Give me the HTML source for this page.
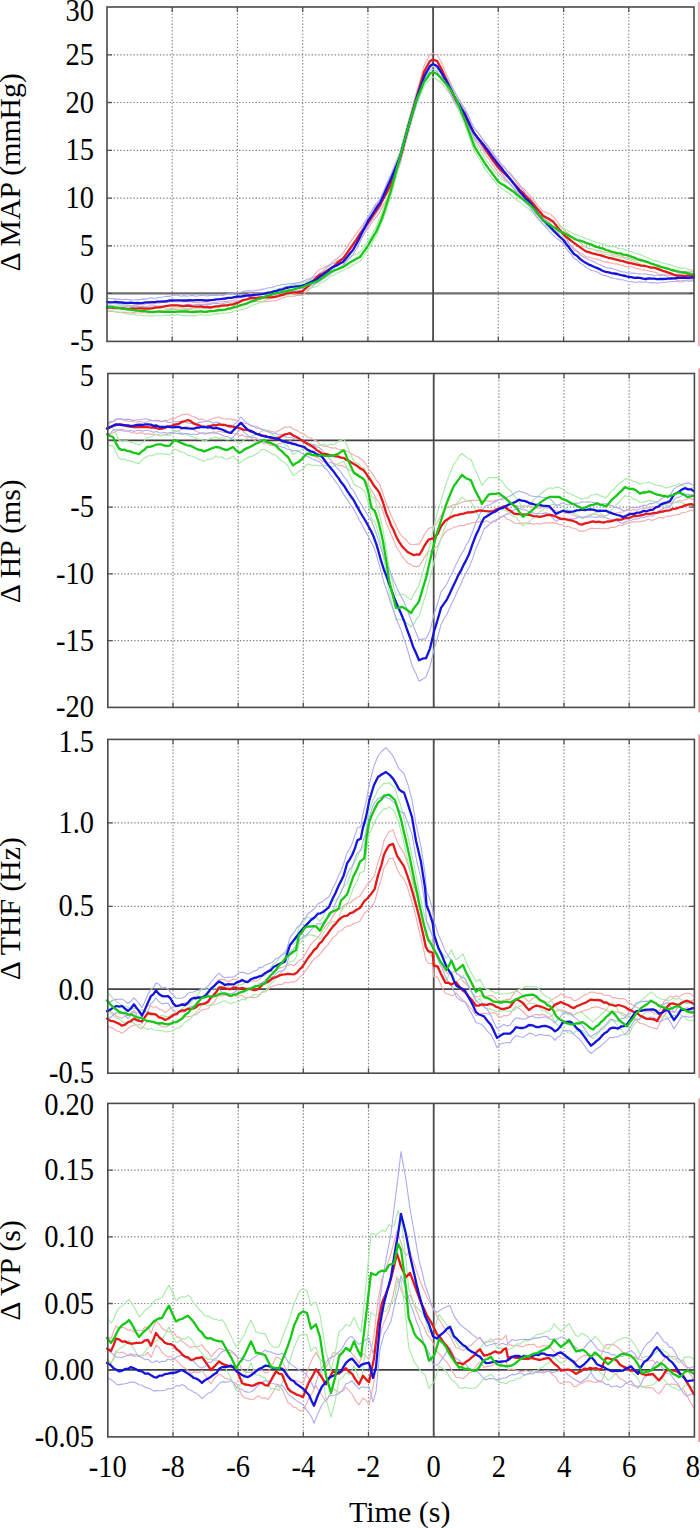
<!DOCTYPE html><html><head><meta charset="utf-8"><style>html,body{margin:0;padding:0;background:#fff;width:700px;height:1528px;overflow:hidden}svg{display:block}text{font-family:"Liberation Serif",serif;fill:#000}</style></head><body>
<svg width="700" height="1528" viewBox="0 0 700 1528">
<rect width="700" height="1528" fill="#fff"/>
<rect x="698" y="2.0" width="2" height="344.4" fill="#f5b0b0"/>
<path d="M172.2,7.0V341.4 M237.4,7.0V341.4 M302.7,7.0V341.4 M367.9,7.0V341.4 M498.3,7.0V341.4 M563.6,7.0V341.4 M628.8,7.0V341.4 M107.0,54.8H694.0 M107.0,102.5H694.0 M107.0,150.3H694.0 M107.0,198.1H694.0 M107.0,245.9H694.0" stroke="#848484" stroke-width="1.15" stroke-dasharray="1.4 1.9" fill="none"/>
<path d="M107.0,293.3H694.0" stroke="#6e6e6e" stroke-width="2.3" fill="none"/>
<path d="M433.1,7.0V341.4" stroke="#4a4a4a" stroke-width="1.8" fill="none"/>
<path d="M107.0,302.7 L109.9,302.5 L112.8,303.0 L115.6,303.9 L118.5,303.4 L121.4,304.0 L124.2,304.4 L127.1,304.7 L130.0,305.3 L132.9,305.6 L135.7,305.1 L138.6,304.4 L141.4,304.6 L144.3,304.5 L147.1,303.6 L150.0,303.9 L153.1,303.9 L156.3,303.1 L159.4,303.3 L162.6,301.9 L165.7,302.1 L168.9,302.2 L172.0,301.5 L175.0,302.0 L178.0,301.7 L181.0,301.7 L184.0,301.4 L187.0,301.6 L190.0,301.8 L192.9,302.5 L195.7,302.4 L198.6,302.7 L201.4,302.7 L204.3,302.8 L207.1,303.1 L210.0,303.4 L212.9,302.7 L215.8,302.9 L218.6,301.8 L221.5,301.5 L224.4,301.6 L227.2,301.4 L230.1,300.8 L233.0,300.5 L235.8,299.4 L238.7,297.9 L241.5,297.1 L244.3,296.3 L247.2,294.5 L250.0,293.5 L253.3,293.8 L256.7,293.7 L260.0,293.2 L262.8,293.0 L265.6,292.9 L268.4,293.5 L271.2,293.3 L274.0,293.1 L276.9,292.1 L279.8,292.0 L282.8,291.1 L285.7,289.9 L288.6,289.8 L291.4,289.6 L294.1,289.2 L296.9,288.7 L299.6,287.7 L302.4,287.8 L305.3,284.5 L308.2,280.8 L311.2,278.2 L314.1,275.2 L317.0,271.6 L319.9,269.4 L322.8,268.4 L325.6,266.5 L328.5,265.3 L331.4,263.2 L334.3,260.3 L337.2,258.5 L340.1,256.1 L343.0,253.1 L346.3,248.4 L349.7,242.7 L353.0,238.2 L356.5,233.1 L360.0,228.7 L362.7,225.2 L365.3,221.0 L368.0,216.8 L371.0,211.9 L374.0,207.7 L377.0,203.6 L380.0,199.2 L383.3,193.0 L386.7,186.2 L390.0,179.7 L393.3,170.6 L396.7,161.3 L400.0,152.4 L402.7,142.2 L405.3,132.5 L408.0,122.1 L410.9,112.0 L413.8,101.5 L416.7,91.3 L420.4,79.1 L424.0,65.9 L427.0,59.8 L430.0,54.4 L433.0,53.3 L437.0,55.0 L441.0,61.3 L443.7,67.9 L446.3,73.7 L449.0,79.6 L451.7,85.5 L454.3,90.8 L457.0,96.1 L459.7,101.2 L462.3,106.2 L465.0,111.0 L468.0,116.1 L471.0,122.4 L474.0,127.7 L477.0,131.6 L480.0,135.4 L483.0,140.1 L486.0,144.1 L489.0,148.7 L492.0,152.8 L495.0,157.4 L498.0,161.4 L501.2,164.5 L504.5,168.1 L507.8,171.2 L511.0,174.1 L514.0,177.6 L517.0,181.5 L520.0,184.8 L522.8,188.3 L525.5,190.5 L528.2,193.5 L531.0,196.9 L534.0,200.0 L537.0,204.6 L540.0,208.0 L543.0,211.2 L546.3,212.4 L549.7,214.1 L553.0,216.3 L556.5,220.5 L559.9,225.1 L563.4,229.7 L566.0,231.8 L568.7,233.8 L571.4,236.5 L574.0,238.1 L577.0,239.9 L580.0,242.4 L583.0,245.2 L586.0,247.3 L588.9,248.4 L591.7,249.0 L594.6,249.7 L597.4,250.7 L600.3,250.8 L603.1,251.7 L606.0,252.3 L608.8,252.8 L611.6,253.9 L614.5,254.9 L617.3,254.9 L620.1,255.7 L623.0,256.7 L625.8,257.6 L628.6,257.9 L631.8,259.3 L634.9,260.0 L638.1,260.1 L641.2,261.4 L644.4,261.6 L647.5,262.1 L650.7,263.3 L653.8,264.2 L657.0,264.6 L659.9,265.8 L662.7,267.3 L665.6,268.3 L668.4,268.4 L671.3,270.3 L674.1,271.1 L677.0,272.0 L679.8,272.4 L682.7,272.2 L685.5,271.2 L688.3,271.2 L691.2,271.3 L694.0,271.4" stroke="#f4aaaa" stroke-width="1.1" fill="none" stroke-linejoin="round"/>
<path d="M107.0,311.0 L109.9,311.7 L112.8,311.3 L115.6,312.0 L118.5,312.4 L121.4,312.4 L124.2,312.1 L127.1,312.5 L130.0,313.0 L132.9,312.6 L135.7,312.9 L138.6,313.0 L141.4,313.0 L144.3,312.2 L147.1,313.2 L150.0,312.7 L153.1,312.7 L156.3,312.3 L159.4,311.5 L162.6,310.9 L165.7,309.9 L168.9,309.7 L172.0,309.3 L175.0,309.6 L178.0,309.9 L181.0,309.8 L184.0,309.8 L187.0,309.4 L190.0,309.6 L192.9,310.1 L195.7,310.2 L198.6,311.1 L201.4,310.4 L204.3,311.4 L207.1,311.6 L210.0,312.0 L212.9,311.0 L215.8,311.4 L218.6,310.9 L221.5,310.2 L224.4,309.6 L227.2,309.6 L230.1,309.4 L233.0,308.7 L235.8,308.1 L238.7,306.7 L241.5,305.9 L244.3,304.0 L247.2,302.8 L250.0,302.0 L253.3,301.7 L256.7,301.3 L260.0,301.5 L262.8,302.0 L265.6,301.4 L268.4,301.5 L271.2,301.0 L274.0,301.0 L276.9,300.3 L279.8,299.0 L282.8,297.9 L285.7,297.0 L288.6,296.2 L291.4,296.2 L294.1,296.1 L296.9,295.5 L299.6,295.2 L302.4,295.7 L305.3,292.9 L308.2,290.0 L311.2,287.8 L314.1,284.8 L317.0,282.0 L319.9,280.1 L322.8,278.8 L325.6,276.6 L328.5,275.2 L331.4,273.4 L334.3,271.4 L337.2,269.7 L340.1,267.6 L343.0,265.2 L346.3,260.7 L349.7,255.3 L353.0,250.0 L356.5,244.5 L360.0,239.9 L362.7,236.7 L365.3,231.7 L368.0,228.5 L371.0,223.7 L374.0,219.6 L377.0,216.4 L380.0,211.8 L383.3,204.8 L386.7,199.4 L390.0,192.3 L393.3,182.6 L396.7,174.2 L400.0,164.6 L402.7,154.2 L405.3,144.4 L408.0,134.6 L410.9,124.0 L413.8,112.5 L416.7,102.3 L420.4,90.4 L424.0,78.2 L427.0,72.9 L430.0,67.7 L433.0,65.2 L437.0,67.4 L441.0,73.4 L443.7,80.4 L446.3,85.8 L449.0,92.5 L451.7,97.1 L454.3,102.2 L457.0,107.3 L459.7,112.1 L462.3,116.6 L465.0,121.5 L468.0,127.0 L471.0,132.5 L474.0,138.8 L477.0,143.0 L480.0,147.5 L483.0,150.9 L486.0,155.4 L489.0,159.2 L492.0,163.6 L495.0,168.3 L498.0,172.3 L501.2,175.8 L504.5,179.2 L507.8,181.8 L511.0,185.5 L514.0,188.2 L517.0,191.2 L520.0,194.7 L522.8,197.5 L525.5,200.8 L528.2,203.7 L531.0,206.9 L534.0,211.0 L537.0,214.7 L540.0,217.9 L543.0,221.6 L546.3,223.0 L549.7,225.1 L553.0,226.1 L556.5,230.9 L559.9,234.8 L563.4,238.9 L566.0,240.7 L568.7,243.6 L571.4,245.7 L574.0,248.3 L577.0,250.7 L580.0,252.9 L583.0,254.2 L586.0,256.8 L588.9,257.1 L591.7,258.0 L594.6,258.8 L597.4,259.4 L600.3,260.3 L603.1,261.6 L606.0,261.9 L608.8,262.6 L611.6,262.9 L614.5,264.0 L617.3,263.8 L620.1,265.2 L623.0,265.3 L625.8,266.7 L628.6,266.7 L631.8,266.8 L634.9,268.0 L638.1,268.6 L641.2,269.8 L644.4,270.1 L647.5,270.5 L650.7,271.4 L653.8,272.0 L657.0,272.9 L659.9,274.5 L662.7,274.5 L665.6,275.6 L668.4,277.5 L671.3,277.6 L674.1,278.7 L677.0,280.3 L679.8,280.7 L682.7,280.6 L685.5,280.2 L688.3,280.0 L691.2,279.8 L694.0,280.1" stroke="#f4aaaa" stroke-width="1.1" fill="none" stroke-linejoin="round"/>
<path d="M107.0,302.0 L109.9,302.4 L112.8,303.0 L115.6,303.8 L118.5,304.2 L121.4,304.2 L124.2,304.2 L127.1,305.4 L130.0,305.5 L132.9,305.9 L135.7,306.1 L138.6,306.7 L141.4,307.2 L144.3,307.1 L147.1,307.5 L150.0,307.5 L153.1,307.7 L156.3,308.1 L159.4,307.6 L162.6,307.4 L165.7,308.5 L168.9,308.8 L172.0,308.4 L175.0,308.1 L178.0,307.9 L181.0,307.9 L184.0,308.4 L187.0,308.6 L190.0,308.7 L193.0,308.2 L196.0,308.1 L199.0,308.6 L202.0,308.2 L205.0,308.0 L207.9,308.2 L210.7,307.3 L213.6,307.7 L216.4,307.6 L219.3,306.5 L222.1,307.0 L225.0,306.3 L228.2,305.5 L231.3,304.1 L234.5,302.9 L237.7,302.4 L240.8,301.8 L244.0,300.6 L247.2,299.0 L250.4,298.1 L253.6,297.2 L256.8,294.8 L260.0,294.0 L262.8,293.4 L265.6,292.6 L268.4,291.6 L271.2,291.5 L274.0,290.2 L276.9,289.0 L279.8,289.1 L282.8,287.1 L285.7,287.0 L288.6,286.0 L291.4,284.8 L294.1,284.4 L296.9,284.4 L299.6,283.9 L302.4,282.6 L305.3,281.8 L308.2,280.9 L311.2,279.6 L314.1,278.3 L317.0,277.7 L319.9,275.6 L322.8,273.6 L325.6,271.4 L328.5,269.2 L331.4,267.4 L334.3,266.3 L337.2,264.3 L340.1,262.8 L343.0,262.1 L346.3,259.8 L349.7,257.2 L353.0,255.6 L356.5,254.1 L360.0,252.1 L362.7,249.0 L365.3,245.1 L368.0,241.2 L370.7,236.9 L373.3,231.9 L376.0,227.3 L379.0,219.5 L382.0,212.8 L384.7,204.3 L387.3,197.2 L390.0,188.6 L393.3,176.8 L396.7,163.6 L400.0,151.7 L402.7,142.4 L405.3,132.5 L408.0,123.4 L410.9,114.0 L413.8,104.3 L416.7,94.6 L420.4,85.1 L424.0,76.6 L427.0,71.9 L430.0,68.0 L433.0,66.4 L437.0,69.8 L441.0,72.3 L443.7,76.5 L446.3,79.2 L449.0,83.0 L451.7,87.6 L454.3,91.4 L457.0,95.9 L459.7,102.8 L462.3,109.6 L465.0,116.2 L468.0,124.4 L471.0,133.1 L474.0,141.4 L477.0,146.2 L480.0,150.8 L483.0,155.0 L486.0,160.2 L489.0,163.8 L492.0,167.8 L495.0,171.6 L498.0,176.1 L501.2,178.6 L504.5,180.9 L507.8,182.6 L511.0,185.1 L514.0,188.1 L517.0,190.0 L520.0,192.6 L522.8,195.2 L525.5,197.7 L528.2,199.6 L531.0,201.8 L534.0,205.0 L537.0,208.9 L540.0,211.0 L543.0,214.8 L546.3,217.6 L549.7,220.5 L553.0,222.7 L556.5,224.2 L559.9,226.2 L563.4,228.2 L566.0,229.7 L568.7,230.9 L571.4,232.4 L574.0,233.9 L577.0,234.8 L580.0,236.2 L583.0,237.2 L586.0,238.8 L588.9,239.2 L591.7,240.7 L594.6,241.7 L597.4,242.7 L600.3,243.6 L603.1,244.0 L606.0,245.0 L608.8,246.3 L611.6,246.6 L614.5,246.8 L617.3,248.1 L620.1,248.8 L623.0,248.7 L625.8,250.3 L628.6,250.7 L631.8,251.7 L634.9,253.5 L638.1,254.0 L641.2,254.9 L644.4,256.6 L647.5,257.8 L650.7,259.1 L653.8,260.4 L657.0,261.1 L659.9,261.8 L662.7,263.3 L665.6,263.8 L668.4,264.4 L671.3,265.1 L674.1,266.3 L677.0,267.2 L679.8,268.1 L682.7,267.9 L685.5,268.0 L688.3,269.3 L691.2,269.9 L694.0,270.0" stroke="#a6eaa6" stroke-width="1.1" fill="none" stroke-linejoin="round"/>
<path d="M107.0,309.9 L109.9,310.3 L112.8,310.8 L115.6,311.9 L118.5,312.0 L121.4,312.2 L124.2,313.6 L127.1,313.8 L130.0,314.1 L132.9,314.1 L135.7,315.1 L138.6,315.3 L141.4,315.2 L144.3,315.7 L147.1,315.8 L150.0,315.9 L153.1,315.9 L156.3,315.7 L159.4,315.8 L162.6,315.8 L165.7,315.0 L168.9,315.4 L172.0,315.1 L175.0,315.2 L178.0,314.5 L181.0,315.4 L184.0,315.6 L187.0,315.6 L190.0,315.6 L193.0,315.6 L196.0,315.7 L199.0,314.8 L202.0,314.8 L205.0,315.2 L207.9,315.1 L210.7,315.2 L213.6,314.0 L216.4,313.6 L219.3,314.0 L222.1,312.9 L225.0,313.2 L228.2,312.9 L231.3,312.2 L234.5,310.8 L237.7,310.4 L240.8,309.6 L244.0,309.1 L247.2,308.3 L250.4,305.9 L253.6,304.7 L256.8,303.9 L260.0,302.5 L262.8,301.2 L265.6,299.9 L268.4,299.4 L271.2,298.3 L274.0,296.8 L276.9,296.2 L279.8,295.6 L282.8,295.1 L285.7,295.3 L288.6,294.7 L291.4,294.2 L294.1,293.3 L296.9,292.8 L299.6,291.5 L302.4,291.1 L305.3,289.6 L308.2,288.6 L311.2,287.8 L314.1,287.1 L317.0,285.9 L319.9,283.4 L322.8,282.1 L325.6,280.5 L328.5,277.8 L331.4,275.8 L334.3,274.9 L337.2,272.9 L340.1,271.8 L343.0,270.6 L346.3,268.4 L349.7,267.4 L353.0,265.0 L356.5,262.9 L360.0,261.2 L362.7,257.9 L365.3,253.4 L368.0,249.8 L370.7,245.7 L373.3,240.4 L376.0,236.5 L379.0,229.4 L382.0,222.3 L384.7,214.6 L387.3,206.7 L390.0,199.3 L393.3,187.4 L396.7,174.8 L400.0,162.3 L402.7,151.9 L405.3,142.1 L408.0,132.7 L410.9,123.5 L413.8,113.9 L416.7,104.6 L420.4,95.2 L424.0,86.8 L427.0,82.4 L430.0,78.9 L433.0,76.9 L437.0,79.7 L441.0,82.8 L443.7,85.5 L446.3,89.6 L449.0,92.5 L451.7,96.6 L454.3,101.4 L457.0,106.0 L459.7,112.5 L462.3,118.4 L465.0,125.2 L468.0,133.4 L471.0,142.3 L474.0,150.4 L477.0,155.8 L480.0,160.3 L483.0,165.6 L486.0,170.6 L489.0,174.0 L492.0,178.2 L495.0,181.7 L498.0,185.4 L501.2,188.1 L504.5,190.4 L507.8,192.2 L511.0,195.2 L514.0,197.9 L517.0,200.2 L520.0,201.9 L522.8,204.6 L525.5,206.6 L528.2,208.6 L531.0,210.7 L534.0,214.1 L537.0,218.0 L540.0,221.0 L543.0,224.2 L546.3,226.2 L549.7,228.8 L553.0,231.7 L556.5,233.7 L559.9,235.2 L563.4,237.0 L566.0,238.2 L568.7,239.7 L571.4,241.4 L574.0,243.6 L577.0,244.9 L580.0,245.6 L583.0,245.8 L586.0,247.2 L588.9,248.8 L591.7,248.8 L594.6,249.7 L597.4,252.0 L600.3,252.0 L603.1,253.7 L606.0,254.5 L608.8,255.3 L611.6,255.3 L614.5,257.0 L617.3,256.6 L620.1,258.1 L623.0,257.8 L625.8,259.1 L628.6,259.6 L631.8,260.7 L634.9,261.4 L638.1,262.8 L641.2,264.3 L644.4,264.7 L647.5,266.6 L650.7,266.8 L653.8,267.6 L657.0,269.3 L659.9,270.0 L662.7,271.2 L665.6,271.9 L668.4,273.1 L671.3,274.7 L674.1,275.1 L677.0,276.1 L679.8,276.7 L682.7,277.1 L685.5,277.1 L688.3,277.7 L691.2,277.9 L694.0,278.6" stroke="#a6eaa6" stroke-width="1.1" fill="none" stroke-linejoin="round"/>
<path d="M107.0,298.8 L110.0,298.2 L113.0,298.6 L116.0,299.1 L119.0,299.0 L122.0,299.5 L125.0,299.4 L128.0,299.5 L131.0,299.9 L134.0,300.0 L137.0,299.5 L140.0,299.7 L142.9,298.9 L145.8,299.1 L148.7,298.3 L151.6,297.7 L154.5,298.5 L157.5,297.8 L160.4,297.2 L163.3,297.0 L166.2,296.3 L169.1,296.4 L172.0,295.8 L175.0,295.3 L178.0,295.3 L181.0,296.2 L184.0,295.6 L187.0,296.2 L190.0,295.8 L193.0,295.4 L196.0,296.2 L199.0,295.7 L202.0,295.2 L205.0,295.7 L207.9,295.9 L210.7,295.4 L213.6,295.5 L216.4,295.5 L219.3,295.0 L222.1,295.6 L225.0,295.0 L228.2,293.8 L231.3,293.7 L234.5,292.7 L237.7,292.9 L240.8,292.3 L244.0,291.3 L247.2,290.9 L250.4,290.7 L253.6,290.9 L256.8,290.3 L260.0,289.9 L262.8,289.1 L265.6,288.7 L268.4,287.8 L271.2,287.8 L274.0,286.8 L276.9,285.7 L279.8,285.3 L282.8,284.5 L285.7,284.5 L288.6,283.8 L291.4,283.8 L294.1,283.4 L296.9,282.9 L299.6,282.4 L302.4,281.5 L305.3,280.2 L308.2,279.0 L311.2,278.2 L314.1,277.2 L317.0,275.6 L319.9,272.9 L322.8,271.6 L325.6,268.4 L328.5,266.2 L331.4,264.3 L334.3,263.0 L337.2,260.8 L340.1,259.6 L343.0,258.0 L346.3,253.7 L349.7,250.3 L353.0,246.2 L356.5,239.8 L360.0,232.5 L362.7,227.7 L365.3,222.1 L368.0,217.0 L371.5,210.9 L375.0,205.1 L377.5,202.3 L380.0,199.0 L383.3,192.0 L386.7,183.5 L390.0,176.6 L393.3,168.7 L396.7,160.3 L400.0,153.0 L402.7,142.9 L405.3,133.8 L408.0,123.3 L410.9,113.6 L413.8,103.3 L416.7,93.7 L420.4,82.9 L424.0,71.6 L427.0,66.4 L430.0,60.5 L433.0,59.2 L437.0,60.3 L441.0,67.7 L443.7,71.8 L446.3,77.2 L449.0,81.6 L451.7,86.4 L454.3,91.7 L457.0,96.6 L459.7,100.2 L462.3,104.9 L465.0,108.7 L468.0,114.6 L471.0,121.5 L474.0,127.9 L477.0,131.8 L480.0,135.2 L483.0,139.5 L486.0,143.4 L489.0,147.3 L492.0,151.2 L495.0,155.8 L498.0,159.4 L501.2,163.8 L504.5,166.8 L507.8,171.9 L511.0,175.2 L514.0,179.0 L517.0,183.1 L520.0,186.7 L522.8,189.2 L525.5,193.0 L528.2,196.0 L531.0,199.0 L534.0,202.7 L537.0,207.7 L540.0,212.2 L543.0,216.2 L546.3,220.1 L549.7,222.8 L553.0,226.2 L556.5,228.9 L559.9,232.4 L563.4,234.9 L566.0,238.2 L568.7,242.6 L571.4,246.6 L574.0,250.2 L577.0,251.6 L580.0,254.7 L583.0,256.5 L586.0,258.2 L588.8,259.6 L591.7,260.7 L594.5,262.1 L597.3,263.8 L600.2,264.7 L603.0,266.3 L605.8,267.6 L608.7,268.2 L611.5,268.4 L614.4,269.3 L617.2,270.0 L620.1,271.4 L622.9,271.9 L625.8,272.2 L628.6,273.2 L631.5,273.0 L634.4,273.1 L637.2,273.7 L640.1,273.9 L643.0,274.0 L645.8,273.7 L648.7,274.8 L651.5,274.5 L654.3,275.7 L657.2,275.0 L660.0,275.6 L662.8,275.2 L665.7,274.7 L668.5,275.3 L671.3,275.0 L674.2,274.9 L677.0,274.4 L679.8,274.0 L682.7,273.9 L685.5,273.3 L688.3,273.1 L691.2,273.0 L694.0,273.0" stroke="#acacf2" stroke-width="1.1" fill="none" stroke-linejoin="round"/>
<path d="M107.0,305.4 L110.0,305.0 L113.0,305.9 L116.0,306.3 L119.0,306.0 L122.0,305.9 L125.0,306.1 L128.0,306.0 L131.0,306.5 L134.0,306.1 L137.0,306.0 L140.0,306.6 L142.9,306.4 L145.8,306.8 L148.7,306.0 L151.6,305.9 L154.5,305.8 L157.5,306.3 L160.4,305.7 L163.3,306.0 L166.2,306.0 L169.1,305.3 L172.0,305.1 L175.0,305.1 L178.0,305.5 L181.0,305.0 L184.0,305.2 L187.0,304.4 L190.0,304.3 L193.0,305.2 L196.0,304.6 L199.0,304.4 L202.0,304.9 L205.0,304.6 L207.9,304.6 L210.7,304.2 L213.6,303.4 L216.4,303.1 L219.3,303.8 L222.1,303.7 L225.0,303.0 L228.2,302.3 L231.3,302.0 L234.5,301.8 L237.7,300.7 L240.8,300.2 L244.0,299.8 L247.2,299.7 L250.4,299.7 L253.6,299.7 L256.8,298.3 L260.0,298.7 L262.8,298.0 L265.6,297.6 L268.4,296.0 L271.2,295.3 L274.0,294.7 L276.9,294.4 L279.8,293.4 L282.8,293.1 L285.7,292.9 L288.6,292.0 L291.4,291.4 L294.1,291.1 L296.9,290.9 L299.6,290.3 L302.4,290.4 L305.3,288.8 L308.2,287.2 L311.2,285.7 L314.1,284.5 L317.0,282.9 L319.9,281.3 L322.8,278.8 L325.6,277.2 L328.5,275.5 L331.4,272.9 L334.3,271.7 L337.2,268.9 L340.1,267.8 L343.0,265.7 L346.3,262.0 L349.7,258.2 L353.0,254.4 L356.5,248.8 L360.0,242.1 L362.7,236.2 L365.3,231.6 L368.0,225.6 L371.5,220.7 L375.0,214.9 L377.5,211.6 L380.0,208.1 L383.3,200.3 L386.7,193.8 L390.0,186.0 L393.3,178.7 L396.7,169.8 L400.0,162.5 L402.7,152.3 L405.3,142.0 L408.0,132.4 L410.9,122.6 L413.8,113.1 L416.7,103.2 L420.4,92.3 L424.0,81.4 L427.0,75.9 L430.0,70.3 L433.0,69.2 L437.0,71.4 L441.0,77.4 L443.7,81.3 L446.3,85.6 L449.0,90.4 L451.7,95.9 L454.3,101.1 L457.0,105.6 L459.7,109.5 L462.3,114.2 L465.0,118.5 L468.0,124.9 L471.0,131.3 L474.0,137.1 L477.0,140.9 L480.0,144.1 L483.0,148.8 L486.0,152.4 L489.0,156.0 L492.0,160.9 L495.0,164.8 L498.0,168.8 L501.2,173.0 L504.5,177.2 L507.8,181.1 L511.0,184.6 L514.0,188.9 L517.0,193.1 L520.0,196.7 L522.8,199.5 L525.5,203.4 L528.2,205.5 L531.0,209.0 L534.0,213.1 L537.0,217.1 L540.0,220.8 L543.0,224.2 L546.3,227.9 L549.7,231.6 L553.0,235.2 L556.5,238.1 L559.9,240.5 L563.4,243.9 L566.0,248.0 L568.7,251.7 L571.4,254.5 L574.0,258.4 L577.0,260.1 L580.0,262.8 L583.0,264.9 L586.0,267.2 L588.8,268.9 L591.7,270.5 L594.5,271.0 L597.3,272.1 L600.2,273.7 L603.0,275.4 L605.8,275.6 L608.7,276.8 L611.5,277.9 L614.4,278.5 L617.2,278.9 L620.1,279.7 L622.9,279.8 L625.8,280.8 L628.6,281.5 L631.5,281.5 L634.4,282.3 L637.2,282.1 L640.1,281.7 L643.0,282.2 L645.8,281.8 L648.7,282.8 L651.5,282.6 L654.3,282.9 L657.2,283.1 L660.0,282.8 L662.8,282.2 L665.7,282.2 L668.5,281.7 L671.3,281.8 L674.2,281.5 L677.0,281.5 L679.8,282.0 L682.7,281.7 L685.5,280.5 L688.3,281.4 L691.2,280.9 L694.0,280.7" stroke="#acacf2" stroke-width="1.1" fill="none" stroke-linejoin="round"/>
<path d="M107.0,307.5 L109.9,307.3 L112.8,308.0 L115.6,308.0 L118.5,308.1 L121.4,308.4 L124.2,308.3 L127.1,308.8 L130.0,308.6 L132.9,308.3 L135.7,308.6 L138.6,308.4 L141.4,308.3 L144.3,308.7 L147.1,308.6 L150.0,308.6 L153.1,308.2 L156.3,307.4 L159.4,307.4 L162.6,306.9 L165.7,306.1 L168.9,305.7 L172.0,305.4 L175.0,305.4 L178.0,305.3 L181.0,305.8 L184.0,306.1 L187.0,305.7 L190.0,306.0 L192.9,306.4 L195.7,306.7 L198.6,306.7 L201.4,306.5 L204.3,307.1 L207.1,307.0 L210.0,307.5 L212.9,307.0 L215.8,306.4 L218.6,306.4 L221.5,305.6 L224.4,305.4 L227.2,305.4 L230.1,304.6 L233.0,304.3 L235.8,303.3 L238.7,302.5 L241.5,300.9 L244.3,299.8 L247.2,299.3 L250.0,298.0 L253.3,298.1 L256.7,297.9 L260.0,297.5 L262.8,297.3 L265.6,297.4 L268.4,297.2 L271.2,297.4 L274.0,297.0 L276.9,296.5 L279.8,295.5 L282.8,294.9 L285.7,293.7 L288.6,293.0 L291.4,292.7 L294.1,292.3 L296.9,292.3 L299.6,291.9 L302.4,291.4 L305.3,288.5 L308.2,285.9 L311.2,282.9 L314.1,280.2 L317.0,277.0 L319.9,274.9 L322.8,273.6 L325.6,271.7 L328.5,269.8 L331.4,268.0 L334.3,266.0 L337.2,263.0 L340.1,260.7 L343.0,258.6 L346.3,254.1 L349.7,249.1 L353.0,244.3 L356.5,239.4 L360.0,234.0 L362.7,230.5 L365.3,226.7 L368.0,222.9 L371.0,218.4 L374.0,213.8 L377.0,209.5 L380.0,205.0 L383.3,198.8 L386.7,192.6 L390.0,186.0 L393.3,176.6 L396.7,167.3 L400.0,158.0 L402.7,148.1 L405.3,138.0 L408.0,128.0 L410.9,117.8 L413.8,107.6 L416.7,97.0 L420.4,84.2 L424.0,72.0 L427.0,66.3 L430.0,61.0 L433.0,59.6 L437.0,61.0 L441.0,68.0 L443.7,74.1 L446.3,79.7 L449.0,86.0 L451.7,91.2 L454.3,96.9 L457.0,102.0 L459.7,106.5 L462.3,111.3 L465.0,116.0 L468.0,121.8 L471.0,127.6 L474.0,133.0 L477.0,137.0 L480.0,141.2 L483.0,145.7 L486.0,150.0 L489.0,154.5 L492.0,158.8 L495.0,162.9 L498.0,167.0 L501.2,170.3 L504.5,173.5 L507.8,176.8 L511.0,180.0 L514.0,183.4 L517.0,186.8 L520.0,190.0 L522.8,192.5 L525.5,195.9 L528.2,198.6 L531.0,201.4 L534.0,204.9 L537.0,208.5 L540.0,211.8 L543.0,215.7 L546.3,217.4 L549.7,219.4 L553.0,221.4 L556.5,226.0 L559.9,230.1 L563.4,234.3 L566.0,236.6 L568.7,238.7 L571.4,240.9 L574.0,242.9 L577.0,245.2 L580.0,247.1 L583.0,249.4 L586.0,251.4 L588.9,252.2 L591.7,253.2 L594.6,253.9 L597.4,254.6 L600.3,255.2 L603.1,256.1 L606.0,257.0 L608.8,258.0 L611.6,258.4 L614.5,259.2 L617.3,259.8 L620.1,260.7 L623.0,261.2 L625.8,262.2 L628.6,262.9 L631.8,263.3 L634.9,264.1 L638.1,264.9 L641.2,265.7 L644.4,265.8 L647.5,266.5 L650.7,267.6 L653.8,267.7 L657.0,268.6 L659.9,269.7 L662.7,270.8 L665.6,271.6 L668.4,272.6 L671.3,273.6 L674.1,274.8 L677.0,275.7 L679.8,275.6 L682.7,275.8 L685.5,275.9 L688.3,275.4 L691.2,275.8 L694.0,275.7" stroke="#e81818" stroke-width="2.3" fill="none" stroke-linejoin="round" stroke-linecap="round"/>
<path d="M107.0,302.0 L110.0,302.3 L113.0,302.2 L116.0,302.0 L119.0,302.4 L122.0,302.5 L125.0,302.8 L128.0,302.9 L131.0,302.6 L134.0,303.2 L137.0,303.0 L140.0,303.2 L142.9,302.9 L145.8,302.4 L148.7,302.3 L151.6,302.2 L154.5,302.2 L157.5,301.7 L160.4,301.7 L163.3,301.5 L166.2,301.3 L169.1,300.5 L172.0,300.5 L175.0,300.3 L178.0,300.4 L181.0,300.3 L184.0,300.5 L187.0,300.5 L190.0,300.2 L193.0,300.3 L196.0,300.2 L199.0,300.2 L202.0,300.2 L205.0,300.5 L207.9,300.5 L210.7,300.2 L213.6,299.9 L216.4,299.3 L219.3,299.2 L222.1,298.9 L225.0,298.5 L228.2,297.9 L231.3,297.8 L234.5,297.1 L237.7,296.5 L240.8,296.6 L244.0,296.0 L247.2,295.4 L250.4,295.5 L253.6,295.0 L256.8,294.7 L260.0,294.3 L262.8,293.9 L265.6,293.3 L268.4,292.7 L271.2,292.3 L274.0,291.4 L276.9,290.9 L279.8,289.6 L282.8,289.3 L285.7,288.0 L288.6,287.5 L291.4,286.9 L294.1,286.7 L296.9,286.3 L299.6,286.2 L302.4,285.7 L305.3,284.6 L308.2,283.4 L311.2,281.8 L314.1,280.6 L317.0,279.3 L319.9,276.7 L322.8,274.7 L325.6,272.8 L328.5,270.6 L331.4,268.0 L334.3,266.4 L337.2,265.3 L340.1,263.5 L343.0,262.0 L346.3,258.1 L349.7,253.7 L353.0,250.0 L356.5,243.6 L360.0,237.0 L362.7,231.5 L365.3,226.6 L368.0,221.0 L371.5,215.6 L375.0,210.0 L377.5,206.2 L380.0,203.0 L383.3,196.0 L386.7,188.3 L390.0,181.0 L393.3,173.3 L396.7,165.2 L400.0,157.0 L402.7,147.6 L405.3,138.0 L408.0,128.0 L410.9,117.7 L413.8,108.2 L416.7,98.0 L420.4,87.3 L424.0,77.0 L427.0,71.2 L430.0,66.0 L433.0,64.0 L437.0,66.0 L441.0,72.0 L443.7,76.8 L446.3,81.0 L449.0,86.0 L451.7,91.3 L454.3,96.2 L457.0,101.0 L459.7,105.2 L462.3,110.0 L465.0,114.0 L468.0,120.6 L471.0,126.9 L474.0,133.0 L477.0,136.9 L480.0,140.4 L483.0,144.0 L486.0,148.0 L489.0,151.8 L492.0,156.1 L495.0,160.1 L498.0,164.0 L501.2,167.8 L504.5,172.1 L507.8,176.1 L511.0,180.0 L514.0,184.1 L517.0,187.8 L520.0,192.0 L522.8,195.1 L525.5,198.3 L528.2,200.8 L531.0,204.0 L534.0,208.1 L537.0,212.2 L540.0,216.2 L543.0,220.0 L546.3,223.3 L549.7,226.5 L553.0,230.0 L556.5,233.6 L559.9,237.0 L563.4,240.0 L566.0,243.7 L568.7,247.0 L571.4,250.8 L574.0,254.0 L577.0,255.9 L580.0,258.8 L583.0,261.1 L586.0,263.0 L588.8,264.6 L591.7,265.7 L594.5,267.0 L597.3,268.1 L600.2,269.4 L603.0,271.0 L605.8,271.9 L608.7,272.3 L611.5,273.1 L614.4,273.5 L617.2,274.0 L620.1,274.9 L622.9,275.5 L625.8,276.0 L628.6,277.0 L631.5,277.2 L634.4,277.8 L637.2,277.6 L640.1,277.9 L643.0,278.6 L645.8,279.0 L648.7,278.4 L651.5,278.6 L654.3,278.6 L657.2,279.1 L660.0,279.0 L662.8,279.0 L665.7,278.9 L668.5,278.7 L671.3,278.5 L674.2,278.3 L677.0,278.0 L679.8,277.9 L682.7,277.8 L685.5,277.7 L688.3,277.9 L691.2,277.6 L694.0,277.5" stroke="#1414e0" stroke-width="2.3" fill="none" stroke-linejoin="round" stroke-linecap="round"/>
<path d="M107.0,306.4 L109.9,307.1 L112.8,307.1 L115.6,307.7 L118.5,307.8 L121.4,308.7 L124.2,308.7 L127.1,309.5 L130.0,309.6 L132.9,310.0 L135.7,310.6 L138.6,310.7 L141.4,311.2 L144.3,310.9 L147.1,311.5 L150.0,311.8 L153.1,312.0 L156.3,311.7 L159.4,311.5 L162.6,311.8 L165.7,311.9 L168.9,311.6 L172.0,311.8 L175.0,311.9 L178.0,311.6 L181.0,311.5 L184.0,311.5 L187.0,311.5 L190.0,311.9 L193.0,312.1 L196.0,311.8 L199.0,311.7 L202.0,311.7 L205.0,311.8 L207.9,311.5 L210.7,310.9 L213.6,311.1 L216.4,310.4 L219.3,310.0 L222.1,310.1 L225.0,309.6 L228.2,308.6 L231.3,308.1 L234.5,306.8 L237.7,306.3 L240.8,305.0 L244.0,304.3 L247.2,303.3 L250.4,301.7 L253.6,301.1 L256.8,299.4 L260.0,298.6 L262.8,297.8 L265.6,296.3 L268.4,295.5 L271.2,294.8 L274.0,293.6 L276.9,292.9 L279.8,292.6 L282.8,291.7 L285.7,291.5 L288.6,290.7 L291.4,289.9 L294.1,289.4 L296.9,288.4 L299.6,287.8 L302.4,287.0 L305.3,285.7 L308.2,284.7 L311.2,283.3 L314.1,282.4 L317.0,281.4 L319.9,279.6 L322.8,277.6 L325.6,275.4 L328.5,273.4 L331.4,271.4 L334.3,270.2 L337.2,269.4 L340.1,268.1 L343.0,267.0 L346.3,265.0 L349.7,262.6 L353.0,260.7 L356.5,258.7 L360.0,257.0 L362.7,253.1 L365.3,249.6 L368.0,245.7 L370.7,240.8 L373.3,236.4 L376.0,232.0 L379.0,225.2 L382.0,218.0 L384.7,210.2 L387.3,201.9 L390.0,194.0 L393.3,181.6 L396.7,169.0 L400.0,157.0 L402.7,147.3 L405.3,137.8 L408.0,128.0 L410.9,118.4 L413.8,108.8 L416.7,99.0 L420.4,90.7 L424.0,82.0 L427.0,78.0 L430.0,73.5 L433.0,72.0 L437.0,74.0 L441.0,78.0 L443.7,81.5 L446.3,84.3 L449.0,87.5 L451.7,91.7 L454.3,96.5 L457.0,101.0 L459.7,107.4 L462.3,114.4 L465.0,120.7 L468.0,128.9 L471.0,137.0 L474.0,145.7 L477.0,150.8 L480.0,155.7 L483.0,160.3 L486.0,165.0 L489.0,169.1 L492.0,173.0 L495.0,177.1 L498.0,181.4 L501.2,183.9 L504.5,185.5 L507.8,188.0 L511.0,190.0 L514.0,192.1 L517.0,194.8 L520.0,197.0 L522.8,199.4 L525.5,201.0 L528.2,203.4 L531.0,205.7 L534.0,209.1 L537.0,213.0 L540.0,216.2 L543.0,220.0 L546.3,222.4 L549.7,224.6 L553.0,227.0 L556.5,228.7 L559.9,231.2 L563.4,232.9 L566.0,234.1 L568.7,235.6 L571.4,237.1 L574.0,238.6 L577.0,240.0 L580.0,240.7 L583.0,241.5 L586.0,242.9 L588.9,243.8 L591.7,244.6 L594.6,246.3 L597.4,247.1 L600.3,247.9 L603.1,248.6 L606.0,250.0 L608.8,250.6 L611.6,251.8 L614.5,252.3 L617.3,253.2 L620.1,253.3 L623.0,254.6 L625.8,254.8 L628.6,255.7 L631.8,256.9 L634.9,257.9 L638.1,259.3 L641.2,260.1 L644.4,261.1 L647.5,262.1 L650.7,263.4 L653.8,264.3 L657.0,265.7 L659.9,266.7 L662.7,267.4 L665.6,268.2 L668.4,268.8 L671.3,270.0 L674.1,270.5 L677.0,271.4 L679.8,271.9 L682.7,272.3 L685.5,272.5 L688.3,273.3 L691.2,274.1 L694.0,274.3" stroke="#14c814" stroke-width="2.3" fill="none" stroke-linejoin="round" stroke-linecap="round"/>
<path d="M172.2,7.0v5 M172.2,341.4v-5 M237.4,7.0v5 M237.4,341.4v-5 M302.7,7.0v5 M302.7,341.4v-5 M367.9,7.0v5 M367.9,341.4v-5 M433.1,7.0v5 M433.1,341.4v-5 M498.3,7.0v5 M498.3,341.4v-5 M563.6,7.0v5 M563.6,341.4v-5 M628.8,7.0v5 M628.8,341.4v-5 M107.0,54.8h5 M694.0,54.8h-5 M107.0,102.5h5 M694.0,102.5h-5 M107.0,150.3h5 M694.0,150.3h-5 M107.0,198.1h5 M694.0,198.1h-5 M107.0,245.9h5 M694.0,245.9h-5 M107.0,293.3h5 M694.0,293.3h-5" stroke="#555" stroke-width="1.3" fill="none"/>
<rect x="107.0" y="7.0" width="587.0" height="334.4" fill="none" stroke="#4a4a4a" stroke-width="1.6"/>
<text transform="translate(94,20.5) scale(1,1.100)" font-size="28.5" text-anchor="end">30</text>
<text transform="translate(94,64.8) scale(1,1.100)" font-size="28.5" text-anchor="end">25</text>
<text transform="translate(94,112.5) scale(1,1.100)" font-size="28.5" text-anchor="end">20</text>
<text transform="translate(94,160.3) scale(1,1.100)" font-size="28.5" text-anchor="end">15</text>
<text transform="translate(94,208.1) scale(1,1.100)" font-size="28.5" text-anchor="end">10</text>
<text transform="translate(94,255.9) scale(1,1.100)" font-size="28.5" text-anchor="end">5</text>
<text transform="translate(94,303.6) scale(1,1.100)" font-size="28.5" text-anchor="end">0</text>
<text transform="translate(94,351.4) scale(1,1.100)" font-size="28.5" text-anchor="end">-5</text>
<text transform="translate(20.4,172.3) rotate(-90) scale(1.045,1)" font-size="28.5" text-anchor="middle">Δ MAP (mmHg)</text>
<rect x="698" y="368.5" width="1" height="343.9" fill="#f6baba"/>
<rect x="699" y="368.5" width="1" height="343.9" fill="#e89494"/>
<path d="M173.0,373.5V707.4 M238.2,373.5V707.4 M303.3,373.5V707.4 M368.5,373.5V707.4 M498.9,373.5V707.4 M564.0,373.5V707.4 M629.2,373.5V707.4 M107.8,507.1H694.4 M107.8,573.8H694.4 M107.8,640.6H694.4" stroke="#848484" stroke-width="1.15" stroke-dasharray="1.4 1.9" fill="none"/>
<path d="M107.8,440.3H694.4" stroke="#404040" stroke-width="1.7" fill="none"/>
<path d="M433.7,373.5V707.4" stroke="#4a4a4a" stroke-width="1.8" fill="none"/>
<path d="M107.0,423.0 L110.0,421.4 L113.0,421.7 L116.0,419.9 L119.0,418.7 L122.0,419.4 L125.0,420.6 L128.0,421.2 L131.0,421.1 L134.0,421.7 L136.8,422.0 L139.6,421.2 L142.4,422.1 L145.2,422.4 L148.0,421.3 L150.8,420.5 L153.6,420.7 L156.4,421.2 L159.2,421.5 L162.0,421.9 L164.8,420.2 L167.6,420.9 L170.4,418.6 L173.2,418.9 L176.0,417.6 L179.0,416.3 L182.0,414.8 L185.0,414.4 L188.0,414.0 L190.7,415.7 L193.3,416.5 L196.0,417.8 L199.0,419.7 L202.0,418.9 L205.0,420.8 L207.8,420.6 L210.6,419.3 L213.4,418.2 L216.2,417.3 L219.0,417.0 L222.0,418.6 L225.0,419.0 L228.0,418.7 L231.0,419.2 L234.0,420.1 L236.8,420.0 L239.6,422.4 L242.4,422.4 L245.2,423.5 L248.0,423.8 L250.8,425.4 L253.6,426.2 L256.4,426.3 L259.2,428.5 L262.0,429.1 L264.8,430.0 L267.6,430.2 L270.4,431.2 L273.2,431.8 L276.0,432.2 L279.0,430.5 L282.0,428.8 L285.0,427.0 L287.5,427.3 L290.0,426.7 L293.6,429.2 L297.1,430.5 L300.7,432.9 L303.4,433.6 L306.0,435.9 L308.7,437.7 L311.4,438.2 L314.0,439.9 L316.7,441.0 L319.4,443.9 L322.0,445.8 L324.8,446.4 L327.5,446.7 L330.2,447.6 L333.0,448.1 L335.6,447.9 L338.3,449.5 L341.0,449.8 L343.6,449.9 L346.3,451.1 L349.0,452.3 L351.6,453.7 L354.3,455.4 L357.3,456.4 L360.4,458.8 L363.4,460.9 L366.1,464.3 L368.7,469.4 L371.4,472.4 L374.1,476.4 L376.7,480.7 L379.4,483.8 L382.9,493.3 L386.3,503.7 L388.6,509.3 L390.9,514.6 L393.8,521.0 L396.6,527.0 L399.5,532.7 L402.3,536.7 L405.1,538.9 L408.0,542.5 L410.9,544.5 L413.7,544.7 L416.5,544.0 L419.4,544.1 L421.7,540.0 L424.0,535.1 L426.3,531.8 L428.6,528.5 L430.9,527.6 L433.1,527.7 L435.4,524.7 L437.7,522.1 L441.0,515.2 L445.0,509.1 L448.0,507.0 L451.0,506.0 L454.0,504.5 L457.2,504.6 L460.5,502.7 L463.8,501.7 L467.0,500.9 L470.2,500.4 L473.5,500.4 L476.8,500.3 L480.0,499.9 L483.2,500.9 L486.5,500.7 L489.8,501.4 L493.0,501.1 L495.8,500.3 L498.5,499.5 L501.2,498.8 L504.0,497.3 L507.3,500.2 L510.7,503.4 L514.0,505.4 L517.2,505.8 L520.5,506.3 L523.8,505.8 L527.0,506.4 L530.2,506.0 L533.5,507.9 L536.8,507.6 L540.0,508.2 L543.3,507.1 L546.7,508.6 L550.0,507.3 L553.0,509.5 L556.0,510.8 L559.0,511.6 L562.0,511.2 L565.0,513.6 L568.0,512.5 L571.0,513.9 L573.8,515.1 L576.5,516.8 L579.2,516.7 L582.0,518.4 L584.8,517.8 L587.5,516.1 L590.2,514.3 L593.0,514.0 L595.8,514.2 L598.5,515.2 L601.2,515.2 L604.0,516.5 L607.3,515.0 L610.7,513.6 L614.0,513.5 L616.8,513.0 L619.5,512.2 L622.2,512.2 L625.0,511.1 L627.8,510.0 L630.5,511.1 L633.2,509.6 L636.0,510.3 L639.3,509.0 L642.7,508.7 L646.0,508.1 L648.8,507.6 L651.5,507.1 L654.2,507.3 L657.0,506.8 L660.1,506.9 L663.3,504.5 L666.4,504.3 L669.6,503.0 L672.7,503.1 L675.9,502.1 L679.0,500.8 L682.3,500.7 L685.7,499.7 L689.0,497.9 L691.5,499.1 L694.0,499.6" stroke="#f4aaaa" stroke-width="1.1" fill="none" stroke-linejoin="round"/>
<path d="M107.0,435.1 L110.0,434.6 L113.0,432.7 L116.0,431.6 L119.0,429.6 L122.0,429.3 L125.0,430.6 L128.0,431.0 L131.0,432.6 L134.0,432.7 L136.8,433.5 L139.6,432.9 L142.4,432.7 L145.2,434.3 L148.0,433.6 L150.8,434.1 L153.6,434.0 L156.4,434.6 L159.2,435.8 L162.0,435.4 L164.8,434.5 L167.6,434.2 L170.4,433.7 L173.2,432.6 L176.0,431.4 L179.0,430.7 L182.0,428.7 L185.0,427.6 L188.0,426.5 L190.7,427.9 L193.3,429.8 L196.0,431.0 L199.0,432.8 L202.0,433.2 L205.0,434.3 L207.8,433.0 L210.6,433.1 L213.4,431.7 L216.2,432.5 L219.0,431.0 L222.0,431.9 L225.0,432.5 L228.0,431.9 L231.0,432.9 L234.0,433.7 L236.8,434.0 L239.6,435.7 L242.4,434.9 L245.2,436.5 L248.0,436.5 L250.8,436.9 L253.6,439.7 L256.4,441.3 L259.2,441.9 L262.0,443.0 L264.8,444.0 L267.6,443.5 L270.4,445.5 L273.2,445.1 L276.0,445.7 L279.0,443.4 L282.0,443.3 L285.0,441.7 L287.5,441.7 L290.0,440.8 L293.6,442.6 L297.1,444.5 L300.7,447.1 L303.4,448.3 L306.0,449.8 L308.7,451.8 L311.4,453.8 L314.0,456.1 L316.7,457.4 L319.4,458.8 L322.0,461.4 L324.8,461.9 L327.5,463.3 L330.2,462.5 L333.0,463.2 L335.6,464.0 L338.3,465.6 L341.0,465.2 L343.6,466.4 L346.3,467.8 L349.0,470.0 L351.6,471.0 L354.3,472.1 L357.3,473.7 L360.4,475.8 L363.4,478.2 L366.1,481.3 L368.7,486.6 L371.4,490.1 L374.1,494.5 L376.7,499.7 L379.4,503.0 L382.9,511.0 L386.3,523.1 L388.6,528.1 L390.9,534.3 L393.8,540.6 L396.6,547.5 L399.5,551.5 L402.3,556.7 L405.1,560.0 L408.0,563.3 L410.9,564.4 L413.7,566.5 L416.5,566.6 L419.4,565.9 L421.7,562.0 L424.0,558.1 L426.3,554.6 L428.6,550.7 L430.9,551.1 L433.1,550.1 L435.4,547.4 L437.7,546.5 L441.0,538.4 L445.0,532.5 L448.0,529.9 L451.0,528.9 L454.0,527.1 L457.2,526.7 L460.5,525.3 L463.8,525.8 L467.0,524.1 L470.2,523.6 L473.5,522.5 L476.8,522.3 L480.0,521.4 L483.2,522.5 L486.5,520.7 L489.8,522.5 L493.0,522.0 L495.8,521.3 L498.5,519.1 L501.2,517.0 L504.0,516.0 L507.3,519.3 L510.7,520.3 L514.0,523.0 L517.2,523.2 L520.5,523.6 L523.8,522.7 L527.0,523.7 L530.2,523.4 L533.5,524.2 L536.8,523.5 L540.0,524.2 L543.3,522.9 L546.7,522.8 L550.0,522.9 L553.0,522.6 L556.0,523.1 L559.0,524.6 L562.0,524.9 L565.0,526.7 L568.0,526.2 L571.0,527.7 L573.8,528.2 L576.5,529.1 L579.2,531.1 L582.0,531.1 L584.8,531.0 L587.5,529.7 L590.2,528.4 L593.0,528.2 L595.8,528.8 L598.5,528.3 L601.2,528.8 L604.0,528.8 L607.3,528.8 L610.7,527.4 L614.0,527.4 L616.8,526.5 L619.5,525.0 L622.2,525.8 L625.0,523.9 L627.8,522.9 L630.5,522.6 L633.2,521.9 L636.0,521.9 L639.3,521.7 L642.7,521.1 L646.0,520.3 L648.8,519.0 L651.5,520.4 L654.2,519.8 L657.0,518.6 L660.1,517.2 L663.3,518.1 L666.4,516.1 L669.6,516.4 L672.7,515.2 L675.9,514.7 L679.0,514.4 L682.3,512.5 L685.7,512.3 L689.0,511.0 L691.5,510.1 L694.0,511.1" stroke="#f4aaaa" stroke-width="1.1" fill="none" stroke-linejoin="round"/>
<path d="M107.0,424.9 L110.0,425.9 L113.0,428.2 L116.0,433.7 L119.0,440.3 L121.8,441.1 L124.5,440.9 L127.2,440.8 L130.0,442.3 L133.0,442.8 L136.0,443.6 L139.0,445.0 L141.7,443.4 L144.3,440.9 L147.0,437.7 L149.8,437.2 L152.5,436.3 L155.2,434.7 L158.0,434.6 L161.0,435.8 L164.0,434.7 L167.0,435.7 L170.0,435.8 L174.0,430.6 L177.5,430.9 L181.0,432.9 L184.0,433.5 L187.0,434.5 L190.0,435.9 L193.0,437.0 L195.8,438.3 L198.5,439.3 L201.2,439.2 L204.0,441.2 L207.0,440.1 L210.0,438.5 L213.0,437.7 L216.0,437.0 L218.8,438.7 L221.5,437.6 L224.2,438.5 L227.0,439.9 L230.0,439.4 L233.0,437.6 L236.0,441.4 L239.0,444.0 L241.8,442.1 L244.5,439.6 L247.2,437.8 L250.0,436.8 L252.8,435.6 L255.6,434.8 L258.4,433.5 L261.2,431.4 L264.0,430.0 L267.0,430.6 L270.0,432.1 L273.0,435.0 L276.0,436.2 L279.0,437.8 L282.0,440.9 L285.0,444.7 L288.0,446.5 L290.5,449.8 L293.0,454.7 L295.7,452.8 L298.3,450.8 L301.0,450.2 L304.0,447.3 L307.0,444.0 L309.8,444.8 L312.5,444.6 L315.2,444.4 L318.0,445.8 L322.0,444.8 L324.8,444.2 L327.5,445.7 L330.2,443.9 L333.0,444.7 L335.8,443.3 L338.5,441.1 L341.2,440.3 L344.0,439.3 L347.0,445.3 L350.0,452.7 L354.0,461.7 L356.6,463.0 L359.3,464.5 L362.0,467.6 L364.6,468.2 L368.0,479.8 L371.4,496.5 L374.9,498.8 L378.3,510.2 L380.6,519.3 L382.9,529.1 L386.3,549.3 L389.0,567.4 L392.5,582.0 L396.0,595.2 L399.0,594.8 L402.0,594.1 L405.0,595.1 L408.0,597.9 L411.0,599.9 L413.7,594.2 L416.3,590.1 L419.0,585.2 L422.5,573.1 L426.0,561.4 L429.0,548.9 L432.0,535.0 L434.5,524.2 L437.0,513.9 L440.0,504.1 L443.0,494.3 L446.0,483.9 L448.7,476.5 L451.3,470.4 L454.0,464.0 L456.7,460.5 L459.3,456.0 L462.0,453.5 L466.0,456.8 L468.5,458.7 L471.0,459.3 L473.5,466.2 L476.0,471.3 L479.0,478.5 L482.0,485.3 L485.5,481.0 L489.0,477.4 L492.3,477.7 L495.7,477.4 L499.0,478.3 L502.0,481.5 L505.0,485.4 L508.0,488.9 L510.7,490.8 L513.3,494.8 L516.0,497.7 L519.5,502.8 L523.0,508.4 L525.7,506.4 L528.3,505.7 L531.0,503.1 L534.0,499.3 L537.0,497.4 L540.0,494.3 L543.3,491.7 L546.7,489.2 L550.0,487.7 L553.0,488.6 L556.0,486.9 L559.0,487.6 L562.0,488.7 L565.0,490.9 L568.0,493.2 L571.0,494.0 L573.8,495.7 L576.5,496.5 L579.2,498.3 L582.0,499.1 L585.0,498.1 L588.0,498.0 L591.0,495.2 L594.0,494.7 L597.0,494.0 L600.0,495.9 L603.0,496.4 L606.0,497.7 L608.7,494.7 L611.3,491.1 L614.0,489.3 L616.8,485.9 L619.5,483.5 L622.2,481.8 L625.0,478.6 L627.8,478.9 L630.5,479.7 L633.2,481.3 L636.0,481.9 L640.0,484.2 L643.0,483.0 L646.0,482.7 L649.0,482.0 L651.7,483.6 L654.3,484.6 L657.0,485.2 L659.8,485.6 L662.5,486.1 L665.2,487.9 L668.0,487.8 L670.8,486.8 L673.5,485.8 L676.2,485.3 L679.0,483.5 L681.7,484.9 L684.3,486.5 L687.0,488.3 L690.5,488.4 L694.0,487.5" stroke="#a6eaa6" stroke-width="1.1" fill="none" stroke-linejoin="round"/>
<path d="M107.0,443.3 L110.0,445.6 L113.0,446.0 L116.0,452.3 L119.0,458.3 L121.8,459.6 L124.5,459.0 L127.2,460.9 L130.0,460.9 L133.0,461.8 L136.0,462.9 L139.0,463.6 L141.7,460.4 L144.3,458.1 L147.0,456.2 L149.8,455.8 L152.5,455.8 L155.2,454.0 L158.0,453.7 L161.0,453.9 L164.0,453.7 L167.0,454.4 L170.0,454.5 L174.0,449.2 L177.5,450.0 L181.0,451.9 L184.0,452.3 L187.0,454.9 L190.0,455.8 L193.0,456.4 L195.8,457.5 L198.5,459.2 L201.2,460.1 L204.0,461.6 L207.0,459.4 L210.0,459.2 L213.0,458.2 L216.0,455.8 L218.8,457.6 L221.5,456.7 L224.2,458.7 L227.0,459.0 L230.0,458.1 L233.0,455.9 L236.0,459.2 L239.0,462.9 L241.8,461.9 L244.5,459.4 L247.2,458.0 L250.0,456.6 L252.8,456.0 L255.6,454.6 L258.4,453.0 L261.2,450.1 L264.0,449.3 L267.0,450.7 L270.0,452.7 L273.0,454.4 L276.0,455.3 L279.0,458.5 L282.0,461.1 L285.0,462.8 L288.0,466.2 L290.5,470.6 L293.0,475.5 L295.7,474.3 L298.3,471.7 L301.0,470.1 L304.0,468.1 L307.0,464.1 L309.8,464.3 L312.5,465.8 L315.2,465.0 L318.0,465.8 L322.0,465.6 L324.8,465.5 L327.5,465.8 L330.2,466.2 L333.0,466.8 L335.8,464.6 L338.5,463.8 L341.2,462.4 L344.0,461.3 L347.0,468.6 L350.0,475.5 L354.0,484.3 L356.6,486.0 L359.3,486.9 L362.0,489.4 L364.6,490.9 L368.0,502.1 L371.4,518.4 L374.9,522.3 L378.3,532.8 L380.6,542.1 L382.9,553.1 L386.3,573.3 L389.0,592.4 L392.5,605.7 L396.0,619.9 L399.0,619.7 L402.0,619.3 L405.0,622.2 L408.0,624.0 L411.0,626.9 L413.7,623.9 L416.3,619.4 L419.0,616.4 L422.5,604.8 L426.0,593.9 L429.0,581.8 L432.0,570.0 L434.5,559.9 L437.0,551.3 L440.0,541.7 L443.0,532.7 L446.0,524.6 L448.7,518.6 L451.3,512.9 L454.0,507.0 L456.7,503.3 L459.3,500.6 L462.0,497.1 L466.0,500.7 L468.5,501.2 L471.0,501.5 L473.5,506.4 L476.0,511.7 L479.0,516.4 L482.0,521.9 L485.5,517.0 L489.0,511.6 L492.3,510.7 L495.7,508.8 L499.0,508.1 L502.0,509.5 L505.0,510.6 L508.0,512.1 L510.7,514.6 L513.3,516.5 L516.0,517.2 L519.5,521.8 L523.0,525.8 L525.7,523.2 L528.3,522.4 L531.0,519.8 L534.0,517.7 L537.0,514.3 L540.0,511.2 L543.3,509.4 L546.7,506.7 L550.0,505.3 L553.0,504.4 L556.0,504.7 L559.0,505.3 L562.0,506.5 L565.0,508.3 L568.0,510.0 L571.0,511.6 L573.8,513.0 L576.5,514.5 L579.2,516.1 L582.0,518.3 L585.0,516.4 L588.0,515.3 L591.0,515.5 L594.0,513.4 L597.0,512.3 L600.0,512.8 L603.0,515.3 L606.0,515.9 L608.7,513.6 L611.3,509.9 L614.0,507.4 L616.8,504.0 L619.5,502.0 L622.2,498.1 L625.0,495.7 L627.8,496.5 L630.5,496.7 L633.2,499.3 L636.0,499.4 L640.0,502.2 L643.0,502.1 L646.0,501.4 L649.0,500.3 L651.7,501.1 L654.3,501.1 L657.0,503.0 L659.8,504.0 L662.5,504.6 L665.2,504.7 L668.0,506.0 L670.8,505.2 L673.5,503.0 L676.2,502.1 L679.0,501.9 L681.7,502.6 L684.3,503.5 L687.0,505.2 L690.5,505.7 L694.0,505.2" stroke="#a6eaa6" stroke-width="1.1" fill="none" stroke-linejoin="round"/>
<path d="M107.0,424.4 L110.0,423.1 L113.0,421.6 L116.0,419.0 L119.0,418.7 L122.0,419.0 L125.0,419.5 L128.0,419.1 L131.0,419.8 L134.0,420.6 L136.8,419.7 L139.6,419.8 L142.4,419.2 L145.2,418.7 L148.0,419.3 L150.8,420.1 L153.6,420.7 L156.4,420.0 L159.2,420.5 L162.0,421.4 L164.8,420.6 L167.6,422.5 L170.4,422.2 L173.2,421.9 L176.0,421.7 L179.0,421.6 L182.0,421.7 L185.0,422.1 L188.0,422.9 L191.0,423.4 L193.8,422.7 L196.6,423.2 L199.4,422.4 L202.2,421.9 L205.0,421.5 L207.8,421.0 L210.6,421.7 L213.4,423.2 L216.2,422.0 L219.0,422.8 L222.0,423.9 L225.0,424.8 L228.0,426.7 L231.0,427.9 L234.3,424.3 L237.7,421.2 L241.0,417.0 L244.5,420.9 L248.0,423.8 L250.8,425.7 L253.6,426.4 L256.4,428.3 L259.2,428.2 L262.0,429.6 L264.8,430.8 L267.6,431.8 L270.4,432.8 L273.2,433.3 L276.0,433.4 L278.8,435.0 L281.6,434.3 L284.4,436.4 L287.2,437.2 L290.0,437.7 L292.8,437.7 L295.5,439.2 L298.2,438.8 L301.0,439.5 L304.3,441.2 L307.7,442.7 L311.0,444.1 L313.8,445.2 L316.5,447.0 L319.2,447.7 L322.0,450.0 L324.8,454.2 L327.5,456.1 L330.2,459.5 L333.0,463.3 L335.8,466.7 L338.5,469.4 L341.2,472.7 L344.0,476.9 L347.3,480.9 L350.7,487.5 L354.0,491.5 L356.8,497.0 L359.5,501.5 L362.2,505.9 L365.0,510.3 L368.2,516.2 L371.4,520.9 L373.7,526.5 L376.0,532.8 L378.3,539.9 L380.6,547.4 L384.0,557.6 L387.3,564.6 L390.7,573.3 L394.0,581.3 L397.3,588.9 L400.7,595.8 L404.0,601.8 L407.0,609.4 L410.0,617.2 L413.0,624.9 L416.0,632.5 L419.0,639.7 L422.5,639.1 L426.0,638.6 L430.0,630.8 L434.0,614.3 L437.5,603.9 L441.0,591.9 L444.0,588.1 L447.0,583.8 L449.8,577.6 L452.5,572.7 L455.2,566.2 L458.0,560.7 L460.8,554.9 L463.5,551.0 L466.2,545.0 L469.0,540.6 L472.5,532.0 L476.0,522.3 L478.7,516.4 L481.3,511.6 L484.0,507.6 L487.0,505.4 L490.0,504.8 L493.0,502.9 L496.2,501.3 L499.5,499.6 L502.8,499.5 L506.0,497.6 L509.2,496.5 L512.5,494.6 L515.8,492.3 L519.0,490.9 L521.7,491.9 L524.3,492.7 L527.0,493.8 L530.0,495.8 L533.0,496.3 L536.0,496.8 L539.2,496.6 L542.5,497.5 L545.8,497.8 L549.0,497.8 L552.5,501.2 L556.0,505.6 L559.5,504.5 L563.0,502.6 L565.7,504.2 L568.3,505.0 L571.0,504.8 L573.8,503.5 L576.5,503.0 L579.2,503.3 L582.0,501.7 L585.0,502.2 L588.0,501.9 L591.0,502.0 L594.0,502.7 L597.0,502.7 L600.0,503.7 L603.0,503.9 L606.0,503.7 L608.8,504.9 L611.7,505.7 L614.5,507.1 L617.3,507.9 L620.2,508.7 L623.0,510.5 L625.7,510.3 L628.3,509.1 L631.0,507.7 L634.1,507.6 L637.3,507.6 L640.4,506.5 L643.6,505.0 L646.7,505.5 L649.9,503.4 L653.0,503.8 L655.7,502.1 L658.3,501.6 L661.0,499.0 L664.0,497.4 L667.0,496.6 L670.0,495.1 L674.0,488.9 L676.8,487.1 L679.5,485.8 L682.2,484.2 L685.0,483.5 L688.0,482.9 L691.0,483.7 L694.0,485.9" stroke="#acacf2" stroke-width="1.1" fill="none" stroke-linejoin="round"/>
<path d="M107.0,433.9 L110.0,433.3 L113.0,430.4 L116.0,429.5 L119.0,430.3 L122.0,430.8 L125.0,431.3 L128.0,431.0 L131.0,430.4 L134.0,431.4 L136.8,430.5 L139.6,430.4 L142.4,431.1 L145.2,430.5 L148.0,430.2 L150.8,431.2 L153.6,432.3 L156.4,431.5 L159.2,432.7 L162.0,433.1 L164.8,432.2 L167.6,433.6 L170.4,432.3 L173.2,432.9 L176.0,433.2 L179.0,433.6 L182.0,434.4 L185.0,433.6 L188.0,433.6 L191.0,434.5 L193.8,434.0 L196.6,434.7 L199.4,433.4 L202.2,432.7 L205.0,433.0 L207.8,433.6 L210.6,432.3 L213.4,433.1 L216.2,433.1 L219.0,433.7 L222.0,435.3 L225.0,436.6 L228.0,436.6 L231.0,438.7 L234.3,435.9 L237.7,431.8 L241.0,429.3 L244.5,432.7 L248.0,435.7 L250.8,437.8 L253.6,437.3 L256.4,438.3 L259.2,440.3 L262.0,441.6 L264.8,442.5 L267.6,442.3 L270.4,442.9 L273.2,444.3 L276.0,444.5 L278.8,446.1 L281.6,447.1 L284.4,447.5 L287.2,449.2 L290.0,449.6 L292.8,451.3 L295.5,450.2 L298.2,451.1 L301.0,452.8 L304.3,454.7 L307.7,456.5 L311.0,458.1 L313.8,459.9 L316.5,460.4 L319.2,461.8 L322.0,464.2 L324.8,468.4 L327.5,470.3 L330.2,474.5 L333.0,478.0 L335.8,482.0 L338.5,485.7 L341.2,490.1 L344.0,494.9 L347.3,499.6 L350.7,505.0 L354.0,509.8 L356.8,514.9 L359.5,520.5 L362.2,525.0 L365.0,530.6 L368.2,536.1 L371.4,542.6 L373.7,546.9 L376.0,553.2 L378.3,561.6 L380.6,570.4 L384.0,582.6 L387.3,592.1 L390.7,602.8 L394.0,611.7 L397.3,621.2 L400.7,629.2 L404.0,639.2 L407.0,647.9 L410.0,658.5 L413.0,667.9 L416.0,673.6 L419.0,681.2 L422.5,679.3 L426.0,676.9 L430.0,666.5 L434.0,649.6 L437.5,637.9 L441.0,624.4 L444.0,618.7 L447.0,614.3 L449.8,607.8 L452.5,602.0 L455.2,596.2 L458.0,589.8 L460.8,584.5 L463.5,577.8 L466.2,572.5 L469.0,567.6 L472.5,558.9 L476.0,548.3 L478.7,542.6 L481.3,535.9 L484.0,529.0 L487.0,526.5 L490.0,524.1 L493.0,521.2 L496.2,519.7 L499.5,517.8 L502.8,516.0 L506.0,514.4 L509.2,513.6 L512.5,510.5 L515.8,508.9 L519.0,508.3 L521.7,509.5 L524.3,509.8 L527.0,510.6 L530.0,512.6 L533.0,512.9 L536.0,513.7 L539.2,513.7 L542.5,513.4 L545.8,512.9 L549.0,513.5 L552.5,517.6 L556.0,521.4 L559.5,519.3 L563.0,517.9 L565.7,519.0 L568.3,519.1 L571.0,518.7 L573.8,519.0 L576.5,518.2 L579.2,517.1 L582.0,517.4 L585.0,517.0 L588.0,516.7 L591.0,516.9 L594.0,517.0 L597.0,517.1 L600.0,516.8 L603.0,517.2 L606.0,517.8 L608.8,518.9 L611.7,519.5 L614.5,520.2 L617.3,521.0 L620.2,522.7 L623.0,523.4 L625.7,521.5 L628.3,521.0 L631.0,520.5 L634.1,519.0 L637.3,518.9 L640.4,517.7 L643.6,517.8 L646.7,516.6 L649.9,515.8 L653.0,516.1 L655.7,513.8 L658.3,511.0 L661.0,509.8 L664.0,507.8 L667.0,507.6 L670.0,506.7 L674.0,499.7 L676.8,497.4 L679.5,497.1 L682.2,495.5 L685.0,494.0 L688.0,494.5 L691.0,494.5 L694.0,496.0" stroke="#acacf2" stroke-width="1.1" fill="none" stroke-linejoin="round"/>
<path d="M107.0,428.6 L110.0,427.2 L113.0,425.9 L116.0,425.2 L119.0,424.3 L122.0,424.7 L125.0,425.4 L128.0,426.4 L131.0,426.7 L134.0,427.0 L136.8,427.2 L139.6,426.9 L142.4,427.0 L145.2,427.0 L148.0,427.0 L150.8,427.6 L153.6,427.5 L156.4,428.0 L159.2,428.8 L162.0,428.6 L164.8,428.0 L167.6,426.5 L170.4,426.3 L173.2,425.2 L176.0,424.3 L179.0,423.8 L182.0,421.8 L185.0,421.0 L188.0,420.0 L190.7,421.1 L193.3,423.4 L196.0,424.3 L199.0,425.2 L202.0,426.7 L205.0,427.0 L207.8,426.3 L210.6,426.0 L213.4,425.1 L216.2,425.4 L219.0,424.3 L222.0,425.0 L225.0,425.0 L228.0,426.0 L231.0,426.2 L234.0,427.0 L236.8,427.4 L239.6,428.1 L242.4,429.3 L245.2,429.8 L248.0,430.0 L250.8,431.6 L253.6,432.1 L256.4,433.9 L259.2,434.2 L262.0,435.7 L264.8,435.8 L267.6,436.8 L270.4,437.4 L273.2,438.3 L276.0,438.6 L279.0,437.7 L282.0,436.1 L285.0,434.3 L287.5,433.9 L290.0,433.2 L293.6,435.7 L297.1,437.3 L300.7,439.6 L303.4,441.4 L306.0,443.0 L308.7,444.5 L311.4,446.0 L314.0,447.6 L316.7,450.1 L319.4,451.8 L322.0,453.6 L324.8,453.9 L327.5,454.3 L330.2,455.5 L333.0,455.7 L335.6,456.4 L338.3,456.5 L341.0,457.6 L343.6,457.9 L346.3,459.8 L349.0,460.9 L351.6,462.6 L354.3,464.3 L357.3,466.0 L360.4,468.6 L363.4,470.0 L366.1,473.6 L368.7,477.5 L371.4,481.4 L374.1,485.8 L376.7,488.9 L379.4,492.9 L382.9,502.0 L386.3,513.4 L388.6,518.8 L390.9,524.9 L393.8,530.6 L396.6,537.4 L399.5,542.3 L402.3,546.6 L405.1,549.5 L408.0,552.3 L410.9,553.8 L413.7,555.1 L416.5,554.5 L419.4,554.6 L421.7,551.2 L424.0,546.6 L426.3,542.8 L428.6,539.7 L430.9,538.9 L433.1,538.6 L435.4,535.9 L437.7,534.0 L441.0,526.4 L445.0,521.0 L448.0,519.0 L451.0,517.1 L454.0,515.7 L457.2,515.1 L460.5,514.1 L463.8,513.7 L467.0,512.5 L470.2,512.3 L473.5,512.0 L476.8,511.1 L480.0,510.4 L483.2,510.9 L486.5,511.2 L489.8,511.4 L493.0,511.4 L495.8,509.6 L498.5,508.9 L501.2,507.9 L504.0,506.1 L507.3,509.1 L510.7,511.0 L514.0,513.6 L517.2,514.0 L520.5,514.1 L523.8,514.6 L527.0,514.6 L530.2,515.2 L533.5,516.1 L536.8,516.3 L540.0,516.8 L543.3,516.1 L546.7,515.2 L550.0,515.0 L553.0,515.5 L556.0,516.6 L559.0,518.2 L562.0,519.2 L565.0,519.0 L568.0,519.8 L571.0,520.4 L573.8,521.2 L576.5,522.3 L579.2,524.1 L582.0,524.6 L584.8,523.4 L587.5,523.0 L590.2,522.2 L593.0,521.4 L595.8,522.1 L598.5,521.7 L601.2,522.2 L604.0,522.5 L607.3,521.5 L610.7,521.3 L614.0,520.4 L616.8,519.5 L619.5,519.8 L622.2,519.3 L625.0,518.2 L627.8,518.1 L630.5,517.5 L633.2,516.2 L636.0,516.1 L639.3,515.6 L642.7,515.0 L646.0,513.9 L648.8,513.9 L651.5,513.7 L654.2,512.8 L657.0,512.9 L660.1,511.8 L663.3,511.5 L666.4,510.6 L669.6,510.3 L672.7,508.9 L675.9,508.6 L679.0,507.5 L682.3,506.6 L685.7,505.1 L689.0,504.3 L691.5,504.1 L694.0,505.0" stroke="#e81818" stroke-width="2.3" fill="none" stroke-linejoin="round" stroke-linecap="round"/>
<path d="M107.0,428.6 L110.0,427.2 L113.0,425.8 L116.0,424.3 L119.0,424.6 L122.0,425.0 L125.0,425.3 L128.0,425.3 L131.0,426.1 L134.0,425.7 L136.8,424.9 L139.6,424.7 L142.4,425.0 L145.2,424.4 L148.0,424.3 L150.8,424.6 L153.6,425.9 L156.4,425.5 L159.2,426.8 L162.0,427.0 L164.8,426.8 L167.6,426.6 L170.4,427.1 L173.2,427.4 L176.0,427.0 L179.0,426.9 L182.0,428.2 L185.0,428.0 L188.0,428.4 L191.0,428.6 L193.8,428.7 L196.6,427.6 L199.4,427.5 L202.2,426.8 L205.0,427.0 L207.8,427.7 L210.6,427.1 L213.4,428.5 L216.2,427.9 L219.0,428.6 L222.0,429.5 L225.0,430.9 L228.0,432.3 L231.0,432.9 L234.3,429.3 L237.7,426.0 L241.0,422.9 L244.5,426.7 L248.0,430.0 L250.8,430.9 L253.6,432.2 L256.4,433.9 L259.2,434.6 L262.0,435.7 L264.8,436.4 L267.6,436.9 L270.4,437.3 L273.2,437.8 L276.0,438.6 L278.8,438.9 L281.6,440.8 L284.4,441.7 L287.2,442.5 L290.0,442.9 L292.8,443.8 L295.5,444.4 L298.2,445.3 L301.0,446.0 L304.3,447.2 L307.7,449.8 L311.0,451.4 L313.8,452.2 L316.5,454.2 L319.2,455.2 L322.0,456.8 L324.8,460.5 L327.5,464.2 L330.2,467.4 L333.0,470.7 L335.8,474.7 L338.5,478.1 L341.2,482.3 L344.0,485.7 L347.3,491.2 L350.7,496.0 L354.0,500.7 L356.8,505.9 L359.5,510.9 L362.2,515.5 L365.0,520.0 L368.2,525.8 L371.4,531.7 L373.7,536.8 L376.0,543.1 L378.3,550.7 L380.6,559.1 L384.0,570.0 L387.3,578.4 L390.7,587.9 L394.0,597.1 L397.3,605.2 L400.7,612.8 L404.0,620.7 L407.0,629.5 L410.0,637.5 L413.0,646.4 L416.0,653.0 L419.0,660.3 L422.5,658.7 L426.0,658.2 L430.0,648.6 L434.0,631.4 L437.5,620.1 L441.0,607.9 L444.0,603.6 L447.0,599.3 L449.8,593.4 L452.5,587.6 L455.2,582.1 L458.0,575.7 L460.8,570.9 L463.5,565.1 L466.2,560.1 L469.0,554.3 L472.5,544.1 L476.0,535.0 L478.7,529.4 L481.3,523.2 L484.0,517.9 L487.0,516.2 L490.0,514.3 L493.0,512.5 L496.2,511.1 L499.5,508.7 L502.8,507.9 L506.0,506.1 L509.2,504.3 L512.5,503.3 L515.8,501.7 L519.0,499.6 L521.7,500.7 L524.3,500.9 L527.0,501.8 L530.0,503.4 L533.0,504.0 L536.0,505.0 L539.2,504.9 L542.5,505.7 L545.8,505.9 L549.0,506.1 L552.5,509.8 L556.0,513.9 L559.5,512.3 L563.0,510.7 L565.7,511.5 L568.3,512.0 L571.0,511.8 L573.8,511.4 L576.5,510.4 L579.2,510.2 L582.0,509.6 L585.0,510.2 L588.0,509.5 L591.0,509.4 L594.0,509.8 L597.0,510.9 L600.0,510.7 L603.0,510.9 L606.0,510.7 L608.8,512.1 L611.7,513.1 L614.5,514.2 L617.3,515.0 L620.2,515.7 L623.0,517.1 L625.7,516.0 L628.3,514.7 L631.0,513.9 L634.1,513.8 L637.3,512.6 L640.4,512.5 L643.6,510.9 L646.7,511.3 L649.9,510.0 L653.0,509.6 L655.7,507.4 L658.3,506.6 L661.0,504.3 L664.0,503.2 L667.0,502.3 L670.0,501.1 L674.0,494.6 L676.8,492.9 L679.5,491.4 L682.2,489.4 L685.0,488.2 L688.0,489.3 L691.0,489.3 L694.0,491.4" stroke="#1414e0" stroke-width="2.3" fill="none" stroke-linejoin="round" stroke-linecap="round"/>
<path d="M107.0,434.3 L110.0,436.0 L113.0,437.0 L116.0,443.1 L119.0,448.6 L121.8,449.9 L124.5,449.7 L127.2,450.9 L130.0,451.4 L133.0,452.6 L136.0,453.1 L139.0,454.3 L141.7,451.5 L144.3,449.8 L147.0,447.0 L149.8,446.9 L152.5,446.2 L155.2,445.0 L158.0,444.3 L161.0,444.4 L164.0,445.5 L167.0,445.9 L170.0,445.7 L174.0,440.0 L177.5,441.2 L181.0,442.9 L184.0,444.1 L187.0,445.3 L190.0,445.6 L193.0,447.0 L195.8,448.5 L198.5,449.7 L201.2,450.1 L204.0,451.4 L207.0,450.3 L210.0,449.2 L213.0,447.8 L216.0,447.0 L218.8,447.3 L221.5,448.4 L224.2,449.5 L227.0,450.0 L230.0,448.6 L233.0,447.0 L236.0,450.2 L239.0,452.9 L241.8,451.7 L244.5,449.4 L247.2,448.1 L250.0,447.0 L252.8,445.5 L255.6,443.8 L258.4,442.7 L261.2,441.3 L264.0,440.0 L267.0,441.8 L270.0,442.6 L273.0,444.0 L276.0,445.7 L279.0,449.1 L282.0,451.3 L285.0,454.6 L288.0,457.0 L290.5,461.3 L293.0,465.4 L295.7,463.3 L298.3,462.2 L301.0,460.0 L304.0,456.5 L307.0,453.6 L309.8,453.9 L312.5,455.2 L315.2,455.1 L318.0,456.0 L322.0,455.0 L324.8,455.8 L327.5,455.9 L330.2,455.7 L333.0,456.0 L335.8,454.6 L338.5,453.7 L341.2,451.6 L344.0,450.4 L347.0,457.9 L350.0,464.3 L354.0,472.9 L356.6,474.5 L359.3,476.5 L362.0,478.0 L364.6,480.3 L368.0,490.6 L371.4,507.7 L374.9,511.1 L378.3,521.4 L380.6,530.6 L382.9,540.9 L386.3,561.4 L389.0,580.0 L392.5,594.3 L396.0,607.9 L399.0,607.8 L402.0,606.8 L405.0,608.4 L408.0,610.7 L411.0,613.2 L413.7,608.7 L416.3,605.1 L419.0,601.4 L422.5,589.4 L426.0,577.9 L429.0,565.0 L432.0,552.1 L434.5,542.2 L437.0,532.9 L440.0,523.7 L443.0,514.5 L446.0,505.0 L448.7,498.1 L451.3,491.7 L454.0,485.7 L456.7,482.2 L459.3,478.6 L462.0,475.0 L466.0,478.2 L468.5,479.3 L471.0,480.4 L473.5,486.7 L476.0,492.1 L479.0,497.6 L482.0,503.9 L485.5,498.8 L489.0,494.3 L492.3,493.9 L495.7,493.8 L499.0,493.2 L502.0,495.6 L505.0,497.8 L508.0,500.7 L510.7,502.9 L513.3,505.1 L516.0,507.1 L519.5,512.1 L523.0,516.8 L525.7,514.6 L528.3,513.5 L531.0,511.4 L534.0,508.6 L537.0,505.9 L540.0,502.9 L543.3,500.4 L546.7,498.3 L550.0,496.8 L553.0,496.8 L556.0,497.0 L559.0,496.8 L562.0,498.8 L565.0,499.8 L568.0,501.3 L571.0,503.2 L573.8,504.1 L576.5,505.7 L579.2,507.0 L582.0,508.6 L585.0,507.6 L588.0,506.2 L591.0,505.1 L594.0,504.6 L597.0,503.2 L600.0,504.8 L603.0,505.2 L606.0,506.4 L608.7,503.6 L611.3,500.2 L614.0,497.9 L616.8,495.4 L619.5,492.6 L622.2,490.1 L625.0,487.1 L627.8,488.3 L630.5,488.8 L633.2,489.0 L636.0,490.4 L640.0,493.6 L643.0,492.3 L646.0,492.5 L649.0,491.4 L651.7,492.3 L654.3,493.5 L657.0,494.6 L659.8,495.2 L662.5,495.8 L665.2,496.0 L668.0,496.8 L670.8,495.6 L673.5,495.0 L676.2,493.3 L679.0,492.5 L681.7,493.6 L684.3,494.8 L687.0,496.8 L690.5,496.5 L694.0,495.7" stroke="#14c814" stroke-width="2.3" fill="none" stroke-linejoin="round" stroke-linecap="round"/>
<path d="M173.0,373.5v5 M173.0,707.4v-5 M238.2,373.5v5 M238.2,707.4v-5 M303.3,373.5v5 M303.3,707.4v-5 M368.5,373.5v5 M368.5,707.4v-5 M433.7,373.5v5 M433.7,707.4v-5 M498.9,373.5v5 M498.9,707.4v-5 M564.0,373.5v5 M564.0,707.4v-5 M629.2,373.5v5 M629.2,707.4v-5 M107.8,440.3h5 M694.4,440.3h-5 M107.8,507.1h5 M694.4,507.1h-5 M107.8,573.8h5 M694.4,573.8h-5 M107.8,640.6h5 M694.4,640.6h-5" stroke="#555" stroke-width="1.3" fill="none"/>
<rect x="107.8" y="373.5" width="586.6" height="333.9" fill="none" stroke="#4a4a4a" stroke-width="1.6"/>
<text transform="translate(94,386.4) scale(1,1.100)" font-size="28.5" text-anchor="end">5</text>
<text transform="translate(94,450.3) scale(1,1.100)" font-size="28.5" text-anchor="end">0</text>
<text transform="translate(94,517.1) scale(1,1.100)" font-size="28.5" text-anchor="end">-5</text>
<text transform="translate(94,583.8) scale(1,1.100)" font-size="28.5" text-anchor="end">-10</text>
<text transform="translate(94,650.6) scale(1,1.100)" font-size="28.5" text-anchor="end">-15</text>
<text transform="translate(94,717.4) scale(1,1.100)" font-size="28.5" text-anchor="end">-20</text>
<text transform="translate(20.4,541.2) rotate(-90) scale(1.045,1)" font-size="28.5" text-anchor="middle">Δ HP (ms)</text>
<rect x="698" y="734.4" width="1" height="343.8" fill="#f6baba"/>
<rect x="699" y="734.4" width="1" height="343.8" fill="#e89494"/>
<path d="M173.0,739.4V1073.2 M238.2,739.4V1073.2 M303.3,739.4V1073.2 M368.5,739.4V1073.2 M498.9,739.4V1073.2 M564.0,739.4V1073.2 M629.2,739.4V1073.2 M107.8,822.9H694.4 M107.8,906.3H694.4" stroke="#848484" stroke-width="1.15" stroke-dasharray="1.4 1.9" fill="none"/>
<path d="M107.8,989.2H694.4" stroke="#404040" stroke-width="1.7" fill="none"/>
<path d="M433.7,739.4V1073.2" stroke="#4a4a4a" stroke-width="1.8" fill="none"/>
<path d="M107.0,1011.2 L110.5,1011.4 L114.0,1013.8 L116.7,1016.5 L119.3,1017.3 L122.0,1018.3 L125.0,1016.1 L128.0,1015.4 L131.0,1012.7 L134.0,1010.7 L136.7,1013.3 L139.3,1012.3 L142.0,1014.7 L145.0,1009.8 L148.0,1004.9 L150.7,1006.3 L153.3,1007.3 L156.0,1006.8 L159.0,1009.1 L162.0,1009.7 L165.0,1012.6 L168.0,1010.6 L171.0,1007.6 L174.0,1006.9 L176.7,1006.1 L179.3,1004.2 L182.0,1003.6 L185.0,1003.1 L188.0,1002.6 L191.0,1000.9 L193.7,999.2 L196.3,999.5 L199.0,996.9 L202.0,997.2 L205.0,994.4 L208.0,994.6 L211.0,989.7 L214.0,986.7 L216.5,982.5 L219.0,979.5 L222.0,979.4 L225.0,979.9 L228.0,981.6 L230.7,980.9 L233.3,979.0 L236.0,979.5 L239.0,981.0 L242.0,981.1 L245.0,980.7 L248.0,980.6 L250.7,981.7 L253.3,980.5 L256.0,981.5 L259.0,979.6 L262.0,976.2 L265.0,974.5 L267.8,972.6 L270.5,971.6 L273.2,971.8 L276.0,969.3 L279.0,968.2 L282.0,967.4 L285.0,966.3 L288.0,965.4 L291.0,964.6 L294.0,965.7 L296.7,963.0 L299.3,960.2 L302.0,959.2 L305.0,954.5 L308.0,949.1 L311.0,944.1 L314.0,941.2 L316.7,938.6 L319.3,935.8 L322.0,931.5 L324.8,927.3 L327.5,923.6 L330.2,921.2 L333.0,916.4 L335.8,911.9 L338.6,909.6 L341.5,908.1 L344.4,905.1 L347.3,903.3 L350.2,902.9 L353.1,900.0 L356.6,897.8 L360.0,895.9 L364.3,889.3 L367.3,884.2 L370.3,881.5 L374.6,875.4 L378.0,861.8 L381.4,851.8 L384.0,840.7 L386.6,835.7 L389.1,831.8 L393.0,829.9 L397.0,841.4 L400.5,847.9 L404.0,853.3 L407.0,861.5 L410.0,871.5 L413.0,881.4 L416.0,892.1 L418.5,903.2 L421.0,912.7 L423.4,923.2 L425.7,935.3 L428.3,939.5 L432.6,941.0 L433.8,954.5 L437.7,955.2 L441.1,962.9 L445.4,971.4 L448.4,973.7 L451.4,973.6 L453.7,971.7 L456.0,972.3 L459.5,975.7 L463.0,981.0 L466.0,984.0 L469.0,987.5 L472.5,993.3 L476.0,997.2 L478.7,996.3 L481.3,995.8 L484.0,996.2 L487.0,995.8 L490.0,995.6 L493.0,995.9 L495.7,998.2 L498.3,1000.6 L501.0,1001.1 L504.0,1000.2 L507.0,999.3 L510.0,999.4 L513.0,994.7 L516.0,990.9 L519.5,992.6 L523.0,995.9 L526.0,999.5 L529.0,1001.9 L532.5,998.6 L536.0,997.3 L539.0,999.6 L542.0,999.9 L545.5,1002.0 L549.0,1002.3 L552.0,999.8 L555.0,997.6 L558.0,996.2 L561.0,993.6 L564.5,996.1 L568.0,997.4 L571.0,997.8 L574.0,1000.8 L576.7,1000.0 L579.3,998.5 L582.0,996.6 L585.0,994.7 L588.0,993.5 L591.0,992.0 L594.3,992.3 L597.7,993.4 L601.0,993.2 L603.8,995.1 L606.5,995.5 L609.2,995.2 L612.0,997.3 L615.3,997.9 L618.7,998.6 L622.0,998.6 L625.0,999.0 L628.0,1002.6 L631.0,1003.7 L634.0,1006.1 L637.0,1007.5 L640.0,1008.5 L643.0,1009.8 L646.0,1011.8 L649.0,1011.9 L651.7,1011.5 L654.3,1013.8 L657.0,1014.0 L660.5,1008.9 L664.0,1001.5 L667.0,999.0 L670.0,996.3 L673.0,997.3 L676.0,995.8 L679.0,997.1 L681.7,994.8 L684.3,993.7 L687.0,993.2 L690.5,993.6 L694.0,996.5" stroke="#f4aaaa" stroke-width="1.1" fill="none" stroke-linejoin="round"/>
<path d="M107.0,1025.9 L110.5,1027.2 L114.0,1028.9 L116.7,1031.0 L119.3,1031.5 L122.0,1033.2 L125.0,1031.4 L128.0,1028.4 L131.0,1026.3 L134.0,1025.1 L136.7,1025.1 L139.3,1027.9 L142.0,1028.5 L145.0,1024.3 L148.0,1020.2 L150.7,1021.7 L153.3,1022.9 L156.0,1022.6 L159.0,1025.2 L162.0,1026.6 L165.0,1027.2 L168.0,1026.0 L171.0,1023.7 L174.0,1022.2 L176.7,1021.6 L179.3,1020.4 L182.0,1018.2 L185.0,1016.9 L188.0,1016.6 L191.0,1016.2 L193.7,1015.3 L196.3,1014.4 L199.0,1012.3 L202.0,1009.9 L205.0,1009.3 L208.0,1008.8 L211.0,1005.0 L214.0,1002.1 L216.5,998.3 L219.0,995.4 L222.0,996.0 L225.0,994.9 L228.0,996.1 L230.7,996.6 L233.3,995.7 L236.0,995.9 L239.0,995.8 L242.0,995.3 L245.0,998.2 L248.0,997.2 L250.7,997.2 L253.3,997.6 L256.0,997.3 L259.0,996.0 L262.0,992.1 L265.0,991.2 L267.8,990.0 L270.5,987.1 L273.2,986.0 L276.0,985.3 L279.0,984.3 L282.0,984.5 L285.0,982.1 L288.0,983.1 L291.0,981.7 L294.0,982.1 L296.7,980.6 L299.3,977.8 L302.0,975.4 L305.0,971.1 L308.0,967.4 L311.0,963.1 L314.0,958.9 L316.7,957.3 L319.3,955.0 L322.0,951.6 L324.8,947.6 L327.5,945.3 L330.2,941.7 L333.0,937.4 L335.8,935.5 L338.6,931.0 L341.5,930.8 L344.4,927.7 L347.3,925.9 L350.2,925.9 L353.1,923.7 L356.6,922.8 L360.0,920.9 L364.3,913.3 L367.3,910.9 L370.3,907.8 L374.6,902.3 L378.0,889.1 L381.4,879.0 L384.0,867.7 L386.6,863.9 L389.1,858.8 L393.0,858.0 L397.0,869.1 L400.5,875.4 L404.0,879.2 L407.0,886.2 L410.0,895.7 L413.0,905.3 L416.0,917.1 L418.5,928.1 L421.0,937.6 L423.4,948.5 L425.7,959.1 L428.3,963.3 L432.6,963.6 L433.8,977.2 L437.7,977.1 L441.1,985.3 L445.4,993.5 L448.4,994.2 L451.4,995.5 L453.7,995.1 L456.0,992.9 L459.5,997.0 L463.0,1000.0 L466.0,1002.8 L469.0,1006.6 L472.5,1009.8 L476.0,1015.5 L478.7,1014.8 L481.3,1013.9 L484.0,1013.3 L487.0,1013.8 L490.0,1013.6 L493.0,1012.6 L495.7,1013.2 L498.3,1016.7 L501.0,1017.3 L504.0,1015.5 L507.0,1015.9 L510.0,1014.4 L513.0,1009.5 L516.0,1006.4 L519.5,1008.7 L523.0,1011.5 L526.0,1014.5 L529.0,1017.5 L532.5,1015.5 L536.0,1014.2 L539.0,1015.1 L542.0,1014.4 L545.5,1015.2 L549.0,1017.6 L552.0,1015.3 L555.0,1011.8 L558.0,1010.2 L561.0,1009.7 L564.5,1010.9 L568.0,1012.2 L571.0,1012.9 L574.0,1015.1 L576.7,1013.2 L579.3,1012.6 L582.0,1011.4 L585.0,1010.3 L588.0,1009.7 L591.0,1007.9 L594.3,1007.0 L597.7,1007.1 L601.0,1008.2 L603.8,1008.8 L606.5,1009.8 L609.2,1012.2 L612.0,1011.9 L615.3,1011.7 L618.7,1012.4 L622.0,1012.9 L625.0,1014.5 L628.0,1016.4 L631.0,1017.1 L634.0,1018.9 L637.0,1020.4 L640.0,1023.5 L643.0,1023.8 L646.0,1024.9 L649.0,1026.8 L651.7,1027.8 L654.3,1028.1 L657.0,1028.9 L660.5,1022.0 L664.0,1015.8 L667.0,1012.2 L670.0,1010.8 L673.0,1012.2 L676.0,1012.0 L679.0,1011.5 L681.7,1009.8 L684.3,1009.6 L687.0,1007.5 L690.5,1010.4 L694.0,1011.2" stroke="#f4aaaa" stroke-width="1.1" fill="none" stroke-linejoin="round"/>
<path d="M107.0,992.3 L110.5,995.5 L114.0,999.7 L116.7,1001.8 L119.3,1003.1 L122.0,1005.3 L125.0,1006.3 L128.0,1007.3 L131.0,1008.9 L134.0,1008.4 L136.8,1008.1 L139.5,1010.1 L142.2,1009.5 L145.0,1011.6 L147.8,1011.9 L150.5,1012.0 L153.2,1014.1 L156.0,1014.7 L159.0,1016.4 L162.0,1015.0 L165.0,1016.4 L168.0,1016.9 L170.8,1014.7 L173.5,1013.4 L176.2,1013.8 L179.0,1012.0 L182.0,1008.6 L185.0,1006.2 L188.0,1005.2 L191.0,1003.1 L194.0,998.9 L196.7,996.5 L199.3,992.6 L202.0,988.9 L204.8,988.7 L207.5,989.7 L210.2,987.9 L213.0,988.9 L216.0,989.0 L219.0,986.5 L222.0,986.8 L225.0,985.5 L228.0,986.2 L231.0,988.8 L233.7,986.8 L236.3,985.9 L239.0,985.2 L242.0,984.4 L245.0,982.9 L248.0,980.5 L250.7,978.5 L253.3,979.6 L256.0,977.4 L259.0,976.0 L262.0,976.2 L265.0,975.8 L268.0,970.8 L271.0,967.3 L273.5,963.9 L276.0,962.2 L279.0,958.3 L282.0,954.6 L285.0,951.9 L288.0,947.4 L290.7,944.3 L293.3,944.3 L296.0,941.8 L299.0,926.1 L301.7,924.3 L304.3,920.4 L307.0,917.3 L310.0,918.1 L313.0,917.9 L316.0,916.6 L320.0,921.6 L323.0,916.6 L326.0,910.4 L330.0,902.7 L332.9,901.2 L335.7,899.7 L338.6,898.2 L341.1,890.1 L344.1,886.1 L347.1,883.6 L350.1,874.8 L353.1,864.9 L357.4,856.9 L360.0,849.9 L364.3,845.6 L365.1,839.1 L366.8,822.9 L369.4,809.5 L372.8,800.2 L375.4,795.7 L378.0,789.6 L381.0,786.3 L384.0,783.1 L386.5,784.0 L389.0,782.5 L392.0,785.5 L395.0,787.9 L398.0,797.7 L401.0,806.3 L403.5,816.0 L406.0,828.0 L409.0,841.4 L412.0,855.9 L414.6,867.7 L417.1,881.1 L419.7,894.3 L424.0,913.6 L428.3,927.5 L430.9,932.4 L433.4,936.5 L436.9,944.2 L440.3,950.2 L443.3,954.6 L446.3,958.2 L448.9,954.2 L451.4,949.8 L455.7,959.7 L459.4,957.3 L463.0,953.9 L466.0,961.8 L469.0,968.2 L472.5,975.2 L476.0,981.4 L480.0,979.2 L484.0,987.4 L487.0,989.3 L490.0,990.3 L493.0,991.5 L495.7,993.5 L498.3,992.1 L501.0,994.0 L504.0,993.7 L507.0,993.6 L510.0,993.0 L513.0,992.4 L516.0,991.0 L519.5,989.3 L523.0,987.9 L526.0,986.4 L529.0,986.8 L532.5,986.8 L536.0,986.9 L539.0,989.1 L542.0,992.9 L544.7,995.5 L547.3,997.3 L550.0,997.7 L553.0,1003.3 L556.0,1007.3 L559.5,1010.2 L563.0,1012.0 L565.7,1013.7 L568.3,1014.8 L571.0,1014.9 L573.8,1014.9 L576.5,1013.2 L579.2,1012.2 L582.0,1012.7 L584.8,1015.1 L587.5,1017.3 L590.2,1019.7 L593.0,1021.9 L595.7,1019.2 L598.3,1017.7 L601.0,1014.3 L603.8,1012.3 L606.5,1009.4 L609.2,1005.0 L612.0,1002.6 L615.5,1006.2 L619.0,1011.8 L621.7,1015.0 L624.3,1015.8 L627.0,1018.4 L630.0,1014.2 L633.0,1008.2 L636.0,1004.8 L638.7,1003.5 L641.3,1000.7 L644.0,998.2 L647.5,995.1 L651.0,991.9 L653.7,993.5 L656.3,996.5 L659.0,998.2 L662.0,999.2 L665.0,999.6 L668.0,1000.4 L670.8,999.8 L673.5,998.2 L676.2,999.3 L679.0,998.4 L681.7,999.8 L684.3,1002.8 L687.0,1003.4 L690.5,1003.5 L694.0,1004.0" stroke="#a6eaa6" stroke-width="1.1" fill="none" stroke-linejoin="round"/>
<path d="M107.0,1008.3 L110.5,1013.0 L114.0,1016.0 L116.7,1018.4 L119.3,1018.8 L122.0,1021.6 L125.0,1022.5 L128.0,1021.4 L131.0,1022.4 L134.0,1023.0 L136.8,1025.4 L139.5,1024.2 L142.2,1027.2 L145.0,1027.9 L147.8,1029.5 L150.5,1028.2 L153.2,1029.7 L156.0,1030.3 L159.0,1030.6 L162.0,1030.6 L165.0,1032.0 L168.0,1031.6 L170.8,1031.3 L173.5,1030.4 L176.2,1028.4 L179.0,1028.0 L182.0,1025.5 L185.0,1022.0 L188.0,1020.5 L191.0,1018.1 L194.0,1014.4 L196.7,1011.4 L199.3,1009.3 L202.0,1004.9 L204.8,1004.3 L207.5,1005.8 L210.2,1004.9 L213.0,1005.1 L216.0,1004.2 L219.0,1002.9 L222.0,1001.5 L225.0,1000.8 L228.0,1002.4 L231.0,1003.8 L233.7,1002.3 L236.3,1002.0 L239.0,1001.5 L242.0,999.0 L245.0,1000.1 L248.0,997.6 L250.7,996.8 L253.3,994.9 L256.0,994.8 L259.0,994.6 L262.0,991.8 L265.0,992.1 L268.0,987.4 L271.0,983.3 L273.5,981.6 L276.0,977.7 L279.0,974.1 L282.0,971.0 L285.0,968.6 L288.0,963.9 L290.7,961.2 L293.3,961.1 L296.0,958.0 L299.0,944.0 L301.7,940.6 L304.3,937.7 L307.0,935.7 L310.0,934.7 L313.0,935.4 L316.0,936.1 L320.0,939.7 L323.0,934.3 L326.0,929.8 L330.0,922.8 L332.9,921.6 L335.7,921.7 L338.6,919.9 L341.1,910.6 L344.1,907.5 L347.1,904.9 L350.1,897.7 L353.1,888.7 L357.4,880.3 L360.0,873.1 L364.3,870.9 L365.1,864.4 L366.8,848.9 L369.4,833.5 L372.8,826.0 L375.4,820.7 L378.0,815.8 L381.0,811.9 L384.0,808.6 L386.5,809.1 L389.0,806.9 L392.0,808.7 L395.0,812.3 L398.0,820.7 L401.0,831.0 L403.5,840.4 L406.0,852.3 L409.0,865.8 L412.0,880.7 L414.6,893.2 L417.1,905.0 L419.7,917.7 L424.0,937.2 L428.3,951.6 L430.9,955.4 L433.4,960.0 L436.9,966.9 L440.3,972.6 L443.3,976.1 L446.3,981.5 L448.9,974.9 L451.4,970.9 L455.7,982.2 L459.4,979.4 L463.0,975.3 L466.0,981.1 L469.0,987.5 L472.5,994.2 L476.0,1001.5 L480.0,998.2 L484.0,1007.1 L487.0,1008.4 L490.0,1009.1 L493.0,1010.1 L495.7,1011.3 L498.3,1011.6 L501.0,1011.1 L504.0,1010.5 L507.0,1011.0 L510.0,1011.4 L513.0,1010.6 L516.0,1008.8 L519.5,1006.4 L523.0,1004.6 L526.0,1005.3 L529.0,1003.5 L532.5,1003.1 L536.0,1004.3 L539.0,1006.6 L542.0,1010.7 L544.7,1010.8 L547.3,1012.5 L550.0,1014.2 L553.0,1017.9 L556.0,1023.8 L559.5,1026.2 L563.0,1029.7 L565.7,1031.0 L568.3,1033.0 L571.0,1033.2 L573.8,1033.2 L576.5,1030.5 L579.2,1031.8 L582.0,1030.4 L584.8,1033.2 L587.5,1035.6 L590.2,1036.0 L593.0,1038.5 L595.7,1035.5 L598.3,1033.4 L601.0,1030.5 L603.8,1028.5 L606.5,1024.7 L609.2,1022.7 L612.0,1019.7 L615.5,1023.0 L619.0,1028.0 L621.7,1029.8 L624.3,1033.7 L627.0,1035.2 L630.0,1032.2 L633.0,1025.8 L636.0,1022.6 L638.7,1019.9 L641.3,1016.7 L644.0,1013.8 L647.5,1010.3 L651.0,1008.6 L653.7,1011.1 L656.3,1012.6 L659.0,1015.0 L662.0,1017.2 L665.0,1015.6 L668.0,1017.8 L670.8,1017.3 L673.5,1015.4 L676.2,1015.6 L679.0,1013.6 L681.7,1015.9 L684.3,1016.4 L687.0,1019.8 L690.5,1021.0 L694.0,1020.3" stroke="#a6eaa6" stroke-width="1.1" fill="none" stroke-linejoin="round"/>
<path d="M107.0,1003.8 L110.5,1001.8 L114.0,999.7 L116.7,999.4 L119.3,999.3 L122.0,999.1 L125.0,1000.9 L128.0,1003.5 L131.0,1001.0 L134.0,997.8 L136.7,1000.5 L139.3,1003.9 L142.0,1007.8 L145.0,1001.0 L148.0,994.5 L151.0,989.2 L153.5,987.4 L156.0,982.9 L159.0,984.3 L162.0,988.1 L165.0,987.3 L168.0,989.2 L170.7,992.6 L173.3,994.7 L176.0,998.3 L179.0,998.2 L182.0,998.1 L185.0,996.8 L188.0,993.3 L191.0,992.3 L193.5,992.0 L196.0,990.7 L199.0,990.2 L202.0,988.5 L205.0,988.5 L208.0,986.1 L211.0,982.0 L214.0,978.7 L216.5,975.3 L219.0,973.2 L222.0,976.3 L225.0,978.1 L228.0,977.0 L231.0,977.3 L234.0,976.8 L236.7,974.9 L239.3,972.7 L242.0,972.1 L245.0,972.7 L248.0,974.2 L251.0,972.9 L254.0,970.7 L256.7,970.4 L259.3,967.4 L262.0,967.7 L265.0,965.2 L268.0,964.1 L271.0,962.9 L273.5,961.3 L276.0,958.4 L279.0,957.4 L282.0,954.6 L285.0,953.7 L287.5,946.8 L290.0,937.3 L294.0,932.3 L297.0,927.5 L300.0,925.1 L303.0,920.0 L305.7,917.6 L308.3,913.2 L311.0,911.5 L314.5,908.5 L318.0,903.7 L320.5,902.4 L323.0,901.4 L326.0,898.7 L329.0,896.8 L332.2,889.5 L335.4,883.3 L338.6,875.6 L341.1,870.6 L343.7,863.6 L347.1,852.6 L349.7,849.0 L352.3,843.2 L354.9,835.4 L357.4,827.8 L360.8,826.7 L362.6,815.7 L366.0,802.2 L369.4,784.1 L371.7,774.3 L374.0,766.1 L378.0,756.0 L382.0,751.0 L386.0,747.6 L389.5,751.6 L393.0,755.9 L396.0,762.3 L399.0,768.8 L401.5,771.2 L404.0,773.5 L408.0,784.9 L412.0,800.1 L416.0,823.9 L418.5,834.9 L421.0,846.8 L425.0,873.1 L426.6,891.7 L429.1,896.9 L432.6,909.6 L434.3,921.6 L438.6,935.1 L442.0,942.7 L445.4,951.4 L448.4,955.7 L451.4,961.6 L454.0,967.6 L456.6,974.0 L459.0,975.0 L462.0,977.2 L465.0,978.8 L468.0,984.4 L471.0,990.5 L473.5,994.8 L476.0,1001.0 L478.7,1002.7 L481.3,1005.7 L484.0,1006.5 L487.5,1009.8 L491.0,1015.6 L494.0,1022.5 L497.0,1028.7 L500.5,1026.4 L504.0,1024.4 L507.0,1025.9 L510.0,1025.3 L513.0,1021.0 L516.0,1017.8 L519.5,1018.4 L523.0,1019.3 L526.0,1018.8 L529.0,1016.3 L532.5,1016.5 L536.0,1017.8 L539.0,1017.9 L542.0,1017.2 L545.5,1016.7 L549.0,1018.6 L552.0,1020.1 L555.0,1023.0 L557.5,1019.7 L560.0,1017.7 L563.0,1013.0 L565.7,1012.2 L568.3,1013.5 L571.0,1014.1 L574.0,1017.0 L577.0,1019.1 L580.0,1022.0 L584.0,1027.9 L587.5,1033.2 L591.0,1036.9 L593.7,1034.4 L596.3,1033.3 L599.0,1031.1 L601.8,1027.9 L604.5,1026.2 L607.2,1023.0 L610.0,1019.4 L612.7,1019.5 L615.3,1021.0 L618.0,1021.0 L621.0,1018.6 L624.0,1018.1 L627.0,1015.2 L630.0,1010.3 L633.0,1008.2 L636.0,1003.2 L638.7,1002.1 L641.3,1001.9 L644.0,1001.4 L647.0,1001.1 L650.0,1001.6 L653.0,1001.1 L656.0,1003.4 L659.0,1004.9 L662.0,1004.7 L665.0,1003.9 L668.0,1002.2 L671.0,1007.9 L674.0,1012.4 L677.5,1007.8 L681.0,1002.6 L683.7,1002.3 L686.3,1003.1 L689.0,1001.5 L691.5,1001.0 L694.0,999.5" stroke="#acacf2" stroke-width="1.1" fill="none" stroke-linejoin="round"/>
<path d="M107.0,1018.7 L110.5,1017.5 L114.0,1014.3 L116.7,1012.5 L119.3,1013.6 L122.0,1012.8 L125.0,1015.6 L128.0,1018.5 L131.0,1015.1 L134.0,1011.6 L136.7,1015.0 L139.3,1019.9 L142.0,1023.3 L145.0,1017.4 L148.0,1010.9 L151.0,1003.6 L153.5,1001.3 L156.0,997.7 L159.0,1002.0 L162.0,1003.9 L165.0,1003.4 L168.0,1003.4 L170.7,1007.7 L173.3,1009.6 L176.0,1012.8 L179.0,1012.2 L182.0,1012.1 L185.0,1011.7 L188.0,1008.6 L191.0,1006.4 L193.5,1006.4 L196.0,1005.2 L199.0,1003.6 L202.0,1003.9 L205.0,1002.9 L208.0,1000.3 L211.0,996.3 L214.0,993.9 L216.5,991.4 L219.0,989.0 L222.0,992.4 L225.0,993.4 L228.0,994.2 L231.0,993.5 L234.0,992.7 L236.7,990.5 L239.3,987.8 L242.0,987.0 L245.0,988.7 L248.0,989.4 L251.0,988.8 L254.0,986.3 L256.7,985.6 L259.3,983.3 L262.0,983.1 L265.0,980.3 L268.0,978.3 L271.0,977.6 L273.5,976.6 L276.0,973.8 L279.0,971.2 L282.0,971.1 L285.0,969.3 L287.5,962.1 L290.0,952.5 L294.0,948.3 L297.0,945.2 L300.0,939.4 L303.0,936.8 L305.7,935.3 L308.3,933.5 L311.0,930.0 L314.5,926.1 L318.0,923.5 L320.5,924.1 L323.0,922.7 L326.0,919.1 L329.0,917.0 L332.2,911.4 L335.4,903.6 L338.6,897.0 L341.1,892.2 L343.7,886.0 L347.1,874.2 L349.7,869.3 L352.3,866.1 L354.9,858.7 L357.4,852.6 L360.8,850.6 L362.6,843.1 L366.0,832.2 L369.4,817.0 L371.7,809.2 L374.0,803.5 L378.0,798.6 L382.0,796.9 L386.0,797.4 L389.5,798.7 L393.0,801.4 L396.0,804.9 L399.0,810.2 L401.5,812.6 L404.0,812.5 L408.0,823.4 L412.0,834.1 L416.0,857.4 L418.5,868.6 L421.0,878.6 L425.0,903.2 L426.6,920.9 L429.1,926.3 L432.6,937.1 L434.3,949.5 L438.6,961.5 L442.0,968.0 L445.4,976.4 L448.4,982.3 L451.4,986.1 L454.0,991.2 L456.6,997.4 L459.0,999.1 L462.0,1001.3 L465.0,1001.8 L468.0,1007.5 L471.0,1012.6 L473.5,1017.5 L476.0,1022.5 L478.7,1023.5 L481.3,1024.3 L484.0,1026.7 L487.5,1031.4 L491.0,1034.8 L494.0,1040.4 L497.0,1047.7 L500.5,1044.1 L504.0,1043.0 L507.0,1042.5 L510.0,1042.9 L513.0,1038.4 L516.0,1035.6 L519.5,1036.8 L523.0,1037.3 L526.0,1035.5 L529.0,1033.1 L532.5,1033.9 L536.0,1036.1 L539.0,1034.6 L542.0,1034.4 L545.5,1035.6 L549.0,1035.1 L552.0,1037.1 L555.0,1040.4 L557.5,1037.1 L560.0,1036.1 L563.0,1030.5 L565.7,1030.7 L568.3,1030.6 L571.0,1031.2 L574.0,1034.8 L577.0,1036.9 L580.0,1039.7 L584.0,1045.0 L587.5,1050.0 L591.0,1053.5 L593.7,1051.4 L596.3,1049.0 L599.0,1047.6 L601.8,1045.2 L604.5,1042.6 L607.2,1040.1 L610.0,1037.3 L612.7,1037.7 L615.3,1037.0 L618.0,1036.9 L621.0,1035.0 L624.0,1034.8 L627.0,1032.1 L630.0,1028.1 L633.0,1022.5 L636.0,1018.9 L638.7,1019.5 L641.3,1017.5 L644.0,1018.4 L647.0,1019.1 L650.0,1017.0 L653.0,1017.2 L656.0,1018.9 L659.0,1022.0 L662.0,1021.0 L665.0,1018.9 L668.0,1018.6 L671.0,1023.1 L674.0,1028.8 L677.5,1023.5 L681.0,1017.6 L683.7,1016.5 L686.3,1016.2 L689.0,1017.3 L691.5,1016.8 L694.0,1015.4" stroke="#acacf2" stroke-width="1.1" fill="none" stroke-linejoin="round"/>
<path d="M107.0,1018.6 L110.5,1020.8 L114.0,1021.4 L116.7,1022.8 L119.3,1023.9 L122.0,1025.7 L125.0,1024.6 L128.0,1022.3 L131.0,1021.0 L134.0,1018.6 L136.7,1020.2 L139.3,1020.9 L142.0,1021.4 L145.0,1017.0 L148.0,1012.9 L150.7,1014.0 L153.3,1013.8 L156.0,1014.7 L159.0,1017.3 L162.0,1018.0 L165.0,1020.0 L168.0,1018.7 L171.0,1016.8 L174.0,1014.7 L176.7,1014.1 L179.3,1011.5 L182.0,1010.4 L185.0,1010.5 L188.0,1008.6 L191.0,1009.0 L193.7,1008.4 L196.3,1006.9 L199.0,1004.7 L202.0,1004.1 L205.0,1003.4 L208.0,1001.9 L211.0,997.7 L214.0,994.7 L216.5,991.7 L219.0,987.6 L222.0,987.5 L225.0,988.2 L228.0,989.0 L230.7,989.1 L233.3,987.6 L236.0,987.6 L239.0,988.8 L242.0,988.1 L245.0,988.7 L248.0,989.0 L250.7,989.0 L253.3,990.0 L256.0,990.0 L259.0,988.5 L262.0,985.1 L265.0,982.9 L267.8,982.2 L270.5,980.0 L273.2,978.0 L276.0,977.1 L279.0,975.7 L282.0,974.7 L285.0,974.3 L288.0,973.8 L291.0,974.2 L294.0,974.3 L296.7,972.7 L299.3,969.8 L302.0,967.1 L305.0,962.7 L308.0,958.0 L311.0,954.3 L314.0,950.0 L316.7,948.0 L319.3,943.6 L322.0,941.4 L324.8,937.2 L327.5,934.0 L330.2,930.2 L333.0,926.4 L335.8,923.6 L338.6,920.0 L341.5,917.6 L344.4,916.1 L347.3,915.7 L350.2,913.1 L353.1,912.3 L356.6,909.8 L360.0,908.0 L364.3,901.1 L367.3,898.5 L370.3,895.1 L374.6,889.1 L378.0,875.4 L381.4,865.1 L384.0,854.8 L386.6,849.3 L389.1,845.4 L393.0,843.9 L397.0,855.7 L400.5,861.2 L404.0,866.4 L407.0,874.6 L410.0,883.6 L413.0,893.9 L416.0,905.0 L418.5,914.1 L421.0,925.0 L423.4,935.3 L425.7,946.8 L428.3,951.1 L432.6,952.8 L433.8,965.7 L437.7,966.5 L441.1,974.3 L445.4,982.8 L448.4,982.8 L451.4,984.5 L453.7,983.2 L456.0,982.1 L459.5,986.8 L463.0,990.7 L466.0,993.1 L469.0,997.1 L472.5,1000.9 L476.0,1005.7 L478.7,1005.6 L481.3,1004.5 L484.0,1004.6 L487.0,1004.9 L490.0,1003.8 L493.0,1004.6 L495.7,1006.7 L498.3,1007.4 L501.0,1008.9 L504.0,1008.8 L507.0,1008.2 L510.0,1007.0 L513.0,1002.8 L516.0,999.3 L519.5,1000.8 L523.0,1003.0 L526.0,1006.9 L529.0,1010.0 L532.5,1007.3 L536.0,1005.7 L539.0,1006.1 L542.0,1007.0 L545.5,1008.5 L549.0,1010.0 L552.0,1007.9 L555.0,1004.6 L558.0,1003.4 L561.0,1002.0 L564.5,1003.8 L568.0,1005.0 L571.0,1007.1 L574.0,1008.2 L576.7,1006.2 L579.3,1005.2 L582.0,1004.0 L585.0,1002.9 L588.0,1001.3 L591.0,999.6 L594.3,1000.1 L597.7,1000.0 L601.0,1000.5 L603.8,1002.5 L606.5,1002.5 L609.2,1004.3 L612.0,1005.0 L615.3,1005.8 L618.7,1005.0 L622.0,1006.0 L625.0,1007.0 L628.0,1009.1 L631.0,1010.4 L634.0,1012.0 L637.0,1013.1 L640.0,1015.7 L643.0,1016.9 L646.0,1018.6 L649.0,1018.9 L651.7,1019.2 L654.3,1019.5 L657.0,1021.1 L660.5,1015.0 L664.0,1009.3 L667.0,1007.1 L670.0,1003.9 L673.0,1003.4 L676.0,1004.5 L679.0,1005.0 L681.7,1002.9 L684.3,1001.5 L687.0,1000.7 L690.5,1002.1 L694.0,1003.9" stroke="#e81818" stroke-width="2.3" fill="none" stroke-linejoin="round" stroke-linecap="round"/>
<path d="M107.0,1011.0 L110.5,1009.6 L114.0,1007.1 L116.7,1006.0 L119.3,1006.7 L122.0,1006.0 L125.0,1008.7 L128.0,1011.0 L131.0,1008.3 L134.0,1004.3 L136.7,1008.1 L139.3,1011.4 L142.0,1015.7 L145.0,1009.4 L148.0,1002.4 L151.0,996.1 L153.5,994.1 L156.0,990.4 L159.0,994.0 L162.0,996.0 L165.0,996.4 L168.0,996.1 L170.7,998.7 L173.3,1003.6 L176.0,1006.1 L179.0,1005.7 L182.0,1004.5 L185.0,1005.0 L188.0,1002.8 L191.0,999.0 L193.5,998.0 L196.0,998.0 L199.0,997.5 L202.0,997.6 L205.0,996.1 L208.0,992.4 L211.0,988.6 L214.0,986.1 L216.5,983.7 L219.0,981.4 L222.0,983.0 L225.0,985.0 L228.0,984.2 L231.0,984.4 L234.0,984.3 L236.7,982.3 L239.3,981.7 L242.0,980.0 L245.0,981.6 L248.0,982.0 L251.0,979.2 L254.0,978.0 L256.7,977.5 L259.3,976.3 L262.0,975.7 L265.0,973.2 L268.0,971.6 L271.0,970.0 L273.5,967.0 L276.0,965.7 L279.0,964.0 L282.0,962.9 L285.0,961.4 L287.5,952.7 L290.0,945.0 L294.0,940.0 L297.0,936.0 L300.0,932.2 L303.0,928.6 L305.7,925.6 L308.3,922.9 L311.0,920.0 L314.5,917.5 L318.0,913.6 L320.5,913.3 L323.0,912.0 L326.0,909.7 L329.0,907.1 L332.2,899.6 L335.4,893.3 L338.6,885.7 L341.1,880.9 L343.7,875.4 L347.1,863.4 L349.7,859.4 L352.3,854.8 L354.9,848.4 L357.4,840.3 L360.8,838.6 L362.6,829.1 L366.0,817.1 L369.4,800.0 L371.7,792.5 L374.0,785.0 L378.0,777.0 L382.0,774.3 L386.0,772.1 L389.5,774.8 L393.0,778.6 L396.0,783.6 L399.0,789.3 L401.5,791.4 L404.0,792.5 L408.0,804.3 L412.0,817.1 L416.0,840.7 L418.5,851.2 L421.0,862.1 L425.0,887.9 L426.6,905.7 L429.1,911.7 L432.6,922.8 L434.3,935.7 L438.6,948.6 L442.0,955.6 L445.4,964.0 L448.4,969.9 L451.4,974.3 L454.0,980.9 L456.6,986.0 L459.0,987.0 L462.0,988.8 L465.0,990.7 L468.0,996.4 L471.0,1001.4 L473.5,1006.5 L476.0,1012.1 L478.7,1014.2 L481.3,1015.3 L484.0,1016.4 L487.5,1021.0 L491.0,1025.0 L494.0,1031.2 L497.0,1037.9 L500.5,1035.6 L504.0,1033.6 L507.0,1033.6 L510.0,1033.6 L513.0,1031.1 L516.0,1027.1 L519.5,1028.0 L523.0,1028.0 L526.0,1027.0 L529.0,1025.0 L532.5,1025.3 L536.0,1027.0 L539.0,1027.2 L542.0,1026.1 L545.5,1025.8 L549.0,1027.0 L552.0,1028.6 L555.0,1031.4 L557.5,1029.8 L560.0,1027.0 L563.0,1022.0 L565.7,1022.1 L568.3,1021.6 L571.0,1022.0 L574.0,1024.9 L577.0,1028.5 L580.0,1030.7 L584.0,1036.1 L587.5,1041.1 L591.0,1045.7 L593.7,1043.7 L596.3,1041.1 L599.0,1039.3 L601.8,1035.9 L604.5,1033.2 L607.2,1031.7 L610.0,1028.6 L612.7,1027.7 L615.3,1027.9 L618.0,1028.6 L621.0,1026.5 L624.0,1026.1 L627.0,1024.3 L630.0,1020.2 L633.0,1015.7 L636.0,1011.4 L638.7,1010.8 L641.3,1010.9 L644.0,1010.0 L647.0,1009.7 L650.0,1009.7 L653.0,1009.3 L656.0,1010.6 L659.0,1013.6 L662.0,1012.9 L665.0,1010.6 L668.0,1010.0 L671.0,1015.3 L674.0,1020.0 L677.5,1015.4 L681.0,1010.0 L683.7,1009.5 L686.3,1010.3 L689.0,1009.3 L691.5,1008.5 L694.0,1008.0" stroke="#1414e0" stroke-width="2.3" fill="none" stroke-linejoin="round" stroke-linecap="round"/>
<path d="M107.0,1000.4 L110.5,1004.6 L114.0,1008.0 L116.7,1009.7 L119.3,1011.8 L122.0,1012.9 L125.0,1012.8 L128.0,1014.7 L131.0,1014.4 L134.0,1015.7 L136.8,1017.4 L139.5,1017.7 L142.2,1018.5 L145.0,1020.0 L147.8,1021.2 L150.5,1021.4 L153.2,1021.8 L156.0,1022.9 L159.0,1023.5 L162.0,1023.2 L165.0,1023.9 L168.0,1024.3 L170.8,1023.6 L173.5,1022.4 L176.2,1022.2 L179.0,1020.5 L182.0,1018.7 L185.0,1015.0 L188.0,1012.9 L191.0,1009.3 L194.0,1007.0 L196.7,1003.6 L199.3,1000.7 L202.0,997.7 L204.8,997.4 L207.5,996.1 L210.2,996.6 L213.0,996.3 L216.0,995.9 L219.0,994.0 L222.0,993.6 L225.0,993.4 L228.0,994.6 L231.0,996.0 L233.7,994.6 L236.3,994.3 L239.0,992.9 L242.0,991.9 L245.0,990.9 L248.0,989.0 L250.7,988.4 L253.3,987.4 L256.0,986.1 L259.0,986.1 L262.0,984.0 L265.0,983.4 L268.0,978.4 L271.0,975.0 L273.5,972.8 L276.0,970.0 L279.0,965.5 L282.0,962.8 L285.0,958.6 L288.0,955.7 L290.7,953.8 L293.3,951.9 L296.0,950.0 L299.0,935.0 L301.7,933.0 L304.3,928.4 L307.0,926.4 L310.0,926.7 L313.0,926.1 L316.0,926.4 L320.0,930.7 L323.0,925.1 L326.0,920.0 L330.0,913.1 L332.9,911.6 L335.7,910.2 L338.6,908.8 L341.1,900.3 L344.1,897.6 L347.1,894.3 L350.1,885.9 L353.1,877.1 L357.4,868.6 L360.0,861.7 L364.3,858.3 L365.1,851.4 L366.8,836.0 L369.4,821.4 L372.8,812.9 L375.4,807.6 L378.0,802.6 L381.0,800.0 L384.0,795.7 L386.5,795.2 L389.0,794.6 L392.0,797.3 L395.0,800.0 L398.0,809.6 L401.0,819.3 L403.5,830.3 L406.0,840.7 L409.0,854.1 L412.0,868.6 L414.6,881.7 L417.1,892.7 L419.7,905.7 L424.0,925.0 L428.3,940.0 L430.9,943.7 L433.4,948.6 L436.9,954.4 L440.3,961.4 L443.3,965.2 L446.3,970.0 L448.9,965.7 L451.4,960.5 L455.7,970.8 L459.4,967.8 L463.0,965.0 L466.0,972.2 L469.0,977.9 L472.5,984.8 L476.0,991.8 L480.0,988.5 L484.0,997.1 L487.0,997.9 L490.0,999.1 L493.0,1001.4 L495.7,1001.9 L498.3,1002.0 L501.0,1002.5 L504.0,1001.9 L507.0,1001.7 L510.0,1002.5 L513.0,1001.1 L516.0,999.3 L519.5,997.7 L523.0,996.1 L526.0,995.4 L529.0,995.0 L532.5,994.7 L536.0,996.0 L539.0,999.3 L542.0,1001.4 L544.7,1002.2 L547.3,1005.1 L550.0,1006.1 L553.0,1010.0 L556.0,1015.7 L559.5,1019.3 L563.0,1021.1 L565.7,1022.8 L568.3,1023.7 L571.0,1024.3 L573.8,1024.4 L576.5,1023.3 L579.2,1023.5 L582.0,1022.1 L584.8,1023.6 L587.5,1025.7 L590.2,1028.1 L593.0,1029.6 L595.7,1026.7 L598.3,1025.3 L601.0,1022.0 L603.8,1019.8 L606.5,1016.6 L609.2,1014.5 L612.0,1011.4 L615.5,1015.1 L619.0,1020.0 L621.7,1022.1 L624.3,1024.1 L627.0,1026.4 L630.0,1022.0 L633.0,1018.5 L636.0,1013.6 L638.7,1011.4 L641.3,1007.9 L644.0,1006.1 L647.5,1004.0 L651.0,1000.7 L653.7,1002.4 L656.3,1003.5 L659.0,1006.1 L662.0,1006.8 L665.0,1007.8 L668.0,1009.3 L670.8,1008.6 L673.5,1007.6 L676.2,1006.3 L679.0,1006.1 L681.7,1008.7 L684.3,1009.5 L687.0,1011.4 L690.5,1012.5 L694.0,1012.5" stroke="#14c814" stroke-width="2.3" fill="none" stroke-linejoin="round" stroke-linecap="round"/>
<path d="M173.0,739.4v5 M173.0,1073.2v-5 M238.2,739.4v5 M238.2,1073.2v-5 M303.3,739.4v5 M303.3,1073.2v-5 M368.5,739.4v5 M368.5,1073.2v-5 M433.7,739.4v5 M433.7,1073.2v-5 M498.9,739.4v5 M498.9,1073.2v-5 M564.0,739.4v5 M564.0,1073.2v-5 M629.2,739.4v5 M629.2,1073.2v-5 M107.8,822.9h5 M694.4,822.9h-5 M107.8,906.3h5 M694.4,906.3h-5 M107.8,989.2h5 M694.4,989.2h-5" stroke="#555" stroke-width="1.3" fill="none"/>
<rect x="107.8" y="739.4" width="586.6" height="333.8" fill="none" stroke="#4a4a4a" stroke-width="1.6"/>
<text transform="translate(94,751.8) scale(1,1.100)" font-size="28.5" text-anchor="end">1.5</text>
<text transform="translate(94,832.9) scale(1,1.100)" font-size="28.5" text-anchor="end">1.0</text>
<text transform="translate(94,916.3) scale(1,1.100)" font-size="28.5" text-anchor="end">0.5</text>
<text transform="translate(94,999.8) scale(1,1.100)" font-size="28.5" text-anchor="end">0.0</text>
<text transform="translate(94,1083.2) scale(1,1.100)" font-size="28.5" text-anchor="end">-0.5</text>
<text transform="translate(20.4,908.6) rotate(-90) scale(1.045,1)" font-size="28.5" text-anchor="middle">Δ THF (Hz)</text>
<rect x="698" y="1098.4" width="1" height="343.5" fill="#f6baba"/>
<rect x="699" y="1098.4" width="1" height="343.5" fill="#e89494"/>
<path d="M173.0,1103.4V1436.9 M238.2,1103.4V1436.9 M303.3,1103.4V1436.9 M368.5,1103.4V1436.9 M498.9,1103.4V1436.9 M564.0,1103.4V1436.9 M629.2,1103.4V1436.9 M107.8,1170.1H694.4 M107.8,1236.8H694.4 M107.8,1303.5H694.4" stroke="#848484" stroke-width="1.15" stroke-dasharray="1.4 1.9" fill="none"/>
<path d="M107.8,1369.8H694.4" stroke="#404040" stroke-width="1.7" fill="none"/>
<path d="M433.7,1103.4V1436.9" stroke="#4a4a4a" stroke-width="1.8" fill="none"/>
<path d="M107.0,1336.3 L111.0,1338.7 L113.5,1331.4 L116.0,1325.8 L119.0,1328.3 L122.0,1327.4 L125.0,1328.0 L128.0,1330.2 L130.8,1329.9 L133.5,1331.7 L136.2,1330.1 L139.0,1330.5 L142.0,1330.7 L145.0,1327.2 L148.0,1326.9 L151.0,1333.2 L153.5,1326.6 L156.0,1321.1 L159.0,1323.7 L162.0,1328.3 L165.0,1330.3 L168.0,1331.7 L171.0,1331.6 L174.0,1332.8 L176.7,1336.9 L179.3,1337.1 L182.0,1341.3 L185.0,1343.4 L188.0,1346.0 L191.0,1347.5 L193.8,1346.6 L196.5,1346.7 L199.2,1346.3 L202.0,1344.6 L205.0,1349.5 L208.0,1351.8 L211.0,1356.8 L213.7,1353.8 L216.3,1350.8 L219.0,1348.3 L222.0,1349.1 L225.0,1350.0 L228.0,1352.0 L230.7,1352.8 L233.3,1353.5 L236.0,1354.9 L239.0,1362.9 L242.0,1370.2 L245.0,1371.8 L248.0,1372.7 L251.0,1372.3 L253.7,1370.1 L256.3,1369.7 L259.0,1369.7 L262.0,1369.8 L265.0,1372.9 L268.0,1372.5 L270.7,1366.8 L273.3,1363.1 L276.0,1356.9 L279.0,1357.9 L282.0,1360.2 L285.0,1367.4 L288.0,1375.2 L290.7,1378.2 L293.3,1379.7 L296.0,1380.7 L299.5,1382.0 L303.0,1383.2 L306.0,1375.5 L309.0,1366.6 L312.5,1358.4 L316.0,1352.6 L319.0,1358.1 L322.0,1360.8 L326.0,1367.1 L329.5,1361.4 L333.0,1352.8 L336.0,1352.9 L339.0,1354.7 L342.5,1351.2 L346.0,1348.7 L349.0,1350.0 L352.0,1353.7 L355.5,1357.7 L359.0,1363.5 L363.0,1353.7 L366.0,1356.2 L369.0,1359.4 L371.5,1348.0 L374.0,1335.0 L378.0,1300.3 L382.0,1278.6 L385.5,1269.1 L389.0,1260.1 L393.0,1246.2 L397.0,1230.5 L401.0,1242.6 L403.5,1250.5 L406.0,1255.5 L410.0,1251.1 L414.0,1263.4 L417.5,1273.6 L421.0,1283.2 L424.0,1290.3 L427.0,1297.0 L430.0,1302.9 L433.0,1308.1 L437.0,1316.4 L440.5,1321.7 L444.0,1327.1 L447.0,1332.1 L450.0,1336.0 L453.0,1341.5 L456.0,1347.8 L459.5,1348.5 L463.0,1350.6 L466.0,1348.8 L469.0,1345.9 L471.5,1345.0 L474.0,1342.4 L477.0,1339.8 L480.0,1337.1 L484.0,1343.7 L487.5,1341.7 L491.0,1341.7 L495.0,1339.1 L498.0,1339.1 L501.0,1339.9 L503.5,1338.2 L506.0,1335.2 L508.0,1345.2 L510.7,1344.8 L513.3,1346.2 L516.0,1345.2 L519.5,1346.1 L523.0,1346.8 L525.7,1345.2 L528.3,1344.4 L531.0,1344.7 L534.0,1344.1 L537.0,1347.2 L540.0,1346.9 L543.0,1345.4 L546.0,1346.2 L549.0,1345.2 L552.0,1349.1 L555.0,1352.3 L558.0,1355.0 L561.0,1357.9 L564.5,1358.2 L568.0,1357.3 L570.7,1360.1 L573.3,1360.2 L576.0,1361.6 L578.7,1358.8 L581.3,1356.9 L584.0,1355.4 L587.0,1355.6 L590.0,1355.6 L593.0,1355.7 L595.7,1354.9 L598.3,1356.1 L601.0,1355.8 L603.5,1349.0 L606.0,1344.5 L608.7,1344.6 L611.3,1344.3 L614.0,1344.9 L617.0,1347.0 L620.0,1349.1 L623.0,1352.4 L625.7,1352.9 L628.3,1356.7 L631.0,1357.0 L634.0,1357.2 L637.0,1357.8 L640.0,1359.6 L643.0,1360.2 L646.0,1360.8 L649.5,1361.0 L653.0,1360.3 L656.0,1364.7 L659.0,1366.6 L662.5,1361.4 L666.0,1356.4 L668.7,1356.3 L671.3,1356.6 L674.0,1356.4 L677.0,1358.2 L680.0,1360.0 L683.0,1360.4 L686.0,1365.2 L689.0,1372.2 L691.5,1375.5 L694.0,1380.9" stroke="#f4aaaa" stroke-width="1.1" fill="none" stroke-linejoin="round"/>
<path d="M107.0,1360.4 L111.0,1363.8 L113.5,1357.8 L116.0,1351.0 L119.0,1353.1 L122.0,1351.9 L125.0,1353.4 L128.0,1355.6 L130.8,1355.1 L133.5,1356.3 L136.2,1356.2 L139.0,1355.3 L142.0,1355.5 L145.0,1354.7 L148.0,1352.3 L151.0,1357.4 L153.5,1351.0 L156.0,1345.3 L159.0,1347.4 L162.0,1352.2 L165.0,1354.9 L168.0,1356.9 L171.0,1356.3 L174.0,1359.1 L176.7,1360.8 L179.3,1363.2 L182.0,1366.6 L185.0,1368.1 L188.0,1370.4 L191.0,1373.5 L193.8,1371.9 L196.5,1372.4 L199.2,1372.4 L202.0,1370.5 L205.0,1374.5 L208.0,1380.0 L211.0,1383.6 L213.7,1379.2 L216.3,1376.3 L219.0,1374.0 L222.0,1375.8 L225.0,1378.2 L228.0,1378.9 L230.7,1379.2 L233.3,1382.5 L236.0,1382.7 L239.0,1388.7 L242.0,1395.5 L245.0,1398.1 L248.0,1398.5 L251.0,1399.8 L253.7,1399.3 L256.3,1396.8 L259.0,1395.9 L262.0,1398.4 L265.0,1397.8 L268.0,1399.6 L270.7,1395.7 L273.3,1391.8 L276.0,1385.9 L279.0,1386.4 L282.0,1388.7 L285.0,1395.6 L288.0,1402.7 L290.7,1404.1 L293.3,1407.1 L296.0,1407.7 L299.5,1410.6 L303.0,1411.2 L306.0,1404.6 L309.0,1397.7 L312.5,1392.5 L316.0,1385.7 L319.0,1391.2 L322.0,1395.3 L326.0,1401.8 L329.5,1394.7 L333.0,1389.0 L336.0,1390.6 L339.0,1392.6 L342.5,1391.1 L346.0,1387.3 L349.0,1390.3 L352.0,1394.0 L355.5,1400.6 L359.0,1404.8 L363.0,1398.0 L366.0,1400.3 L369.0,1404.7 L371.5,1393.8 L374.0,1381.9 L378.0,1347.2 L382.0,1327.4 L385.5,1318.9 L389.0,1310.8 L393.0,1295.9 L397.0,1276.9 L401.0,1289.9 L403.5,1294.8 L406.0,1299.5 L410.0,1295.0 L414.0,1304.2 L417.5,1313.5 L421.0,1321.8 L424.0,1326.8 L427.0,1334.5 L430.0,1337.7 L433.0,1342.9 L437.0,1351.4 L440.5,1355.1 L444.0,1359.3 L447.0,1362.4 L450.0,1367.0 L453.0,1372.2 L456.0,1377.3 L459.5,1377.5 L463.0,1378.8 L466.0,1376.2 L469.0,1373.0 L471.5,1371.7 L474.0,1369.0 L477.0,1365.0 L480.0,1361.8 L484.0,1367.4 L487.5,1366.4 L491.0,1366.1 L495.0,1363.5 L498.0,1364.6 L501.0,1364.0 L503.5,1361.7 L506.0,1360.4 L508.0,1370.1 L510.7,1369.0 L513.3,1369.4 L516.0,1370.3 L519.5,1371.2 L523.0,1371.5 L525.7,1370.5 L528.3,1371.5 L531.0,1371.0 L534.0,1372.2 L537.0,1372.4 L540.0,1372.2 L543.0,1372.9 L546.0,1372.0 L549.0,1370.5 L552.0,1374.5 L555.0,1376.4 L558.0,1381.4 L561.0,1383.8 L564.5,1382.5 L568.0,1381.8 L570.7,1382.3 L573.3,1386.1 L576.0,1386.8 L578.7,1384.3 L581.3,1383.7 L584.0,1382.0 L587.0,1380.9 L590.0,1380.7 L593.0,1382.0 L595.7,1382.5 L598.3,1381.5 L601.0,1382.3 L603.5,1376.6 L606.0,1370.3 L608.7,1370.0 L611.3,1372.0 L614.0,1372.6 L617.0,1375.0 L620.0,1378.8 L623.0,1380.1 L625.7,1381.7 L628.3,1384.4 L631.0,1384.5 L634.0,1386.1 L637.0,1386.1 L640.0,1386.1 L643.0,1386.3 L646.0,1388.0 L649.5,1387.5 L653.0,1388.2 L656.0,1391.9 L659.0,1393.8 L662.5,1389.3 L666.0,1384.2 L668.7,1384.2 L671.3,1384.1 L674.0,1384.3 L677.0,1384.9 L680.0,1388.3 L683.0,1388.8 L686.0,1393.3 L689.0,1399.5 L691.5,1403.9 L694.0,1407.6" stroke="#f4aaaa" stroke-width="1.1" fill="none" stroke-linejoin="round"/>
<path d="M107.0,1318.1 L111.0,1323.0 L113.7,1319.4 L116.3,1312.3 L119.0,1308.1 L122.3,1306.1 L125.7,1302.6 L129.0,1299.3 L132.3,1304.2 L135.7,1310.1 L139.0,1316.7 L142.0,1314.4 L145.0,1310.3 L148.0,1308.3 L150.7,1306.1 L153.3,1302.5 L156.0,1299.7 L159.0,1299.1 L162.0,1297.5 L165.5,1291.4 L169.0,1285.0 L172.5,1292.3 L176.0,1300.6 L179.0,1298.2 L182.0,1296.8 L185.0,1297.2 L188.0,1295.3 L190.7,1297.4 L193.3,1302.9 L196.0,1305.1 L199.0,1309.8 L202.0,1312.0 L205.0,1316.0 L208.0,1315.8 L211.0,1318.1 L214.0,1319.1 L216.7,1319.4 L219.3,1320.6 L222.0,1319.7 L225.0,1323.7 L228.0,1330.2 L231.0,1335.9 L233.5,1341.6 L236.0,1347.0 L239.0,1343.6 L242.0,1338.3 L245.0,1333.3 L248.0,1326.0 L251.0,1320.1 L253.5,1325.5 L256.0,1331.7 L259.0,1332.9 L262.0,1333.7 L265.0,1333.4 L268.0,1339.9 L271.0,1345.4 L273.7,1347.2 L276.3,1347.3 L279.0,1346.7 L282.0,1338.5 L285.0,1330.2 L288.0,1323.1 L291.0,1313.6 L294.0,1303.4 L296.5,1298.2 L299.0,1292.0 L303.0,1288.6 L307.0,1291.0 L311.0,1305.9 L313.5,1302.7 L316.0,1302.3 L320.0,1314.8 L323.0,1333.3 L326.0,1352.0 L328.5,1360.9 L331.0,1369.9 L335.0,1354.3 L339.0,1331.7 L342.5,1329.1 L346.0,1324.5 L350.0,1325.9 L354.0,1317.3 L357.5,1326.0 L361.0,1332.1 L365.0,1295.2 L369.0,1254.4 L371.0,1233.8 L373.5,1233.5 L376.0,1235.5 L379.0,1232.6 L382.0,1230.4 L385.6,1231.5 L389.0,1224.4 L391.6,1226.2 L394.1,1225.7 L398.0,1210.5 L401.0,1218.3 L403.6,1237.9 L406.1,1260.7 L408.7,1288.7 L411.4,1296.0 L414.0,1303.9 L416.5,1307.1 L419.0,1309.8 L422.0,1312.7 L425.0,1317.6 L429.0,1332.5 L431.5,1331.1 L434.0,1328.4 L436.5,1322.5 L439.0,1314.4 L442.5,1319.1 L446.0,1323.4 L449.0,1330.5 L452.0,1335.6 L455.5,1340.9 L459.0,1346.3 L461.7,1346.8 L464.3,1347.8 L467.0,1350.1 L470.0,1350.2 L473.0,1352.3 L476.0,1353.3 L478.7,1349.3 L481.3,1346.9 L484.0,1341.9 L487.5,1341.5 L491.0,1338.7 L494.0,1341.9 L497.0,1347.6 L500.0,1347.4 L503.0,1349.6 L506.0,1349.1 L508.7,1349.6 L511.3,1348.6 L514.0,1346.8 L517.0,1343.7 L520.0,1344.3 L523.0,1341.5 L525.7,1340.6 L528.3,1340.7 L531.0,1338.7 L534.0,1336.9 L537.0,1334.4 L540.0,1333.9 L543.0,1333.7 L546.0,1331.2 L549.0,1331.2 L551.5,1328.7 L554.0,1323.9 L557.5,1327.8 L561.0,1331.4 L563.7,1328.5 L566.3,1325.8 L569.0,1323.6 L572.5,1329.7 L576.0,1335.6 L578.7,1336.5 L581.3,1333.4 L584.0,1334.3 L587.5,1336.5 L591.0,1341.2 L595.0,1336.3 L598.0,1339.2 L601.0,1343.0 L604.5,1347.1 L608.0,1349.4 L611.0,1345.1 L614.0,1342.9 L617.0,1340.9 L620.0,1339.4 L623.0,1337.9 L625.7,1337.5 L628.3,1338.3 L631.0,1339.8 L634.5,1344.5 L638.0,1350.0 L642.0,1358.0 L645.0,1356.8 L648.0,1356.2 L651.0,1355.6 L654.3,1354.2 L657.7,1351.0 L661.0,1348.8 L664.0,1351.0 L667.0,1352.5 L670.0,1356.4 L673.0,1358.6 L676.0,1359.5 L679.0,1362.5 L681.7,1362.0 L684.3,1357.6 L687.0,1357.1 L690.5,1357.0 L694.0,1359.3" stroke="#a6eaa6" stroke-width="1.1" fill="none" stroke-linejoin="round"/>
<path d="M107.0,1358.2 L111.0,1362.9 L113.7,1359.4 L116.3,1352.9 L119.0,1349.0 L122.3,1347.1 L125.7,1344.3 L129.0,1340.4 L132.3,1346.1 L135.7,1352.1 L139.0,1357.0 L142.0,1355.0 L145.0,1351.6 L148.0,1348.0 L150.7,1345.2 L153.3,1342.9 L156.0,1340.9 L159.0,1339.8 L162.0,1339.2 L165.5,1333.7 L169.0,1326.8 L172.5,1336.0 L176.0,1342.6 L179.0,1341.5 L182.0,1338.6 L185.0,1339.2 L188.0,1336.6 L190.7,1338.6 L193.3,1342.3 L196.0,1346.7 L199.0,1350.0 L202.0,1353.4 L205.0,1357.6 L208.0,1359.3 L211.0,1358.9 L214.0,1360.4 L216.7,1359.9 L219.3,1361.7 L222.0,1362.6 L225.0,1367.2 L228.0,1372.5 L231.0,1378.5 L233.5,1383.7 L236.0,1390.3 L239.0,1386.5 L242.0,1380.9 L245.0,1375.2 L248.0,1369.1 L251.0,1362.9 L253.5,1369.4 L256.0,1375.1 L259.0,1374.7 L262.0,1376.9 L265.0,1377.3 L268.0,1383.9 L271.0,1388.9 L273.7,1388.5 L276.3,1389.1 L279.0,1390.5 L282.0,1383.0 L285.0,1375.1 L288.0,1368.4 L291.0,1357.0 L294.0,1347.5 L296.5,1341.6 L299.0,1336.0 L303.0,1334.0 L307.0,1335.1 L311.0,1351.3 L313.5,1348.0 L316.0,1347.3 L320.0,1359.4 L323.0,1379.3 L326.0,1399.2 L328.5,1407.8 L331.0,1417.1 L335.0,1402.1 L339.0,1379.9 L342.5,1377.6 L346.0,1372.7 L350.0,1374.7 L354.0,1365.6 L357.5,1374.7 L361.0,1381.1 L365.0,1353.5 L369.0,1326.0 L371.0,1311.8 L373.5,1314.5 L376.0,1315.7 L379.0,1313.1 L382.0,1310.8 L385.6,1311.5 L389.0,1305.5 L391.6,1302.4 L394.1,1301.2 L398.0,1278.6 L401.0,1280.6 L403.6,1297.7 L406.1,1320.5 L408.7,1347.6 L411.4,1354.4 L414.0,1362.1 L416.5,1365.1 L419.0,1368.6 L422.0,1372.8 L425.0,1374.7 L429.0,1388.6 L431.5,1384.6 L434.0,1382.4 L436.5,1374.6 L439.0,1366.0 L442.5,1368.4 L446.0,1370.9 L449.0,1375.9 L452.0,1379.8 L455.5,1382.5 L459.0,1387.5 L461.7,1388.4 L464.3,1387.2 L467.0,1387.9 L470.0,1388.3 L473.0,1388.2 L476.0,1387.8 L478.7,1384.9 L481.3,1381.9 L484.0,1378.5 L487.5,1375.9 L491.0,1374.2 L494.0,1377.6 L497.0,1381.4 L500.0,1382.6 L503.0,1382.5 L506.0,1383.9 L508.7,1381.7 L511.3,1380.8 L514.0,1380.8 L517.0,1378.3 L520.0,1378.3 L523.0,1375.7 L525.7,1374.6 L528.3,1373.7 L531.0,1371.9 L534.0,1370.6 L537.0,1370.9 L540.0,1368.3 L543.0,1366.9 L546.0,1364.3 L549.0,1363.0 L551.5,1359.0 L554.0,1356.7 L557.5,1360.5 L561.0,1363.3 L563.7,1362.1 L566.3,1359.7 L569.0,1356.4 L572.5,1361.6 L576.0,1367.9 L578.7,1366.2 L581.3,1366.6 L584.0,1365.5 L587.5,1369.4 L591.0,1371.9 L595.0,1368.5 L598.0,1369.9 L601.0,1373.7 L604.5,1375.6 L608.0,1380.2 L611.0,1378.6 L614.0,1375.1 L617.0,1372.8 L620.0,1370.8 L623.0,1369.1 L625.7,1368.5 L628.3,1369.1 L631.0,1371.1 L634.5,1375.2 L638.0,1379.0 L642.0,1387.5 L645.0,1386.8 L648.0,1385.6 L651.0,1385.3 L654.3,1383.9 L657.7,1380.1 L661.0,1377.9 L664.0,1379.5 L667.0,1382.8 L670.0,1385.8 L673.0,1387.5 L676.0,1388.8 L679.0,1390.6 L681.7,1388.9 L684.3,1386.1 L687.0,1384.9 L690.5,1386.6 L694.0,1387.6" stroke="#a6eaa6" stroke-width="1.1" fill="none" stroke-linejoin="round"/>
<path d="M107.0,1348.5 L110.5,1352.3 L114.0,1355.0 L116.5,1357.1 L119.0,1357.3 L122.0,1357.6 L125.0,1356.2 L128.0,1355.2 L131.0,1353.6 L133.8,1355.3 L136.5,1354.3 L139.2,1356.5 L142.0,1357.5 L145.0,1359.6 L148.0,1359.2 L151.0,1362.2 L154.0,1362.1 L156.7,1360.6 L159.3,1362.5 L162.0,1361.2 L165.0,1361.5 L168.0,1359.0 L171.0,1360.0 L174.0,1359.0 L176.7,1356.8 L179.3,1355.9 L182.0,1355.3 L185.0,1357.2 L188.0,1359.7 L191.0,1360.2 L193.8,1361.7 L196.5,1364.4 L199.2,1366.9 L202.0,1368.1 L205.0,1366.6 L208.0,1362.2 L211.0,1362.4 L214.0,1359.1 L216.7,1357.9 L219.3,1354.7 L222.0,1351.7 L225.0,1350.4 L228.0,1349.8 L231.0,1350.7 L233.7,1352.6 L236.3,1356.4 L239.0,1358.0 L242.0,1358.4 L245.0,1359.7 L248.0,1361.0 L250.7,1360.2 L253.3,1357.9 L256.0,1356.1 L259.0,1354.3 L262.0,1352.6 L265.0,1350.1 L268.0,1351.8 L271.0,1351.9 L274.0,1353.4 L276.7,1354.2 L279.3,1354.4 L282.0,1353.2 L285.0,1356.3 L288.0,1362.0 L291.0,1364.4 L293.7,1366.1 L296.3,1368.1 L299.0,1369.7 L303.0,1372.1 L306.0,1374.3 L309.0,1378.4 L311.5,1382.7 L314.0,1388.6 L318.0,1376.3 L322.0,1367.5 L325.5,1363.6 L329.0,1358.3 L332.0,1356.9 L335.0,1355.7 L338.0,1352.7 L341.0,1350.0 L343.5,1345.9 L346.0,1341.2 L349.0,1337.5 L352.0,1336.5 L355.5,1341.0 L359.0,1344.4 L361.5,1342.7 L364.0,1341.4 L366.5,1339.0 L369.0,1339.0 L373.0,1353.3 L376.0,1342.7 L380.0,1298.6 L384.0,1271.2 L387.5,1251.7 L391.0,1233.5 L395.0,1200.7 L398.0,1177.4 L401.0,1151.6 L403.5,1166.2 L406.0,1180.1 L410.0,1208.6 L414.0,1231.1 L416.5,1245.8 L419.0,1260.2 L422.0,1271.1 L425.0,1284.8 L429.0,1296.0 L433.0,1309.0 L437.0,1312.4 L440.5,1310.0 L444.0,1307.9 L447.0,1306.5 L450.0,1305.6 L454.0,1315.9 L457.0,1320.1 L460.0,1324.5 L463.0,1326.9 L465.7,1329.0 L468.3,1330.6 L471.0,1333.7 L474.0,1335.6 L477.0,1338.0 L480.0,1338.4 L483.0,1341.7 L486.0,1346.0 L489.5,1345.0 L493.0,1343.9 L496.0,1343.2 L499.0,1344.4 L502.5,1343.2 L506.0,1344.7 L509.0,1342.5 L512.0,1339.4 L515.5,1340.6 L519.0,1339.8 L521.7,1339.5 L524.3,1339.3 L527.0,1339.4 L530.0,1339.6 L533.0,1338.7 L536.0,1337.9 L538.7,1337.9 L541.3,1337.1 L544.0,1336.2 L547.0,1336.5 L550.0,1339.5 L553.0,1339.3 L555.7,1339.2 L558.3,1338.6 L561.0,1337.0 L564.5,1338.1 L568.0,1341.7 L571.0,1343.5 L574.0,1345.9 L577.0,1348.4 L580.0,1352.2 L584.0,1348.1 L587.5,1343.6 L591.0,1340.5 L594.0,1344.3 L597.0,1348.3 L600.0,1350.9 L603.0,1351.1 L606.0,1352.4 L608.7,1352.6 L611.3,1354.9 L614.0,1354.5 L617.0,1356.2 L620.0,1356.5 L623.0,1356.1 L625.7,1353.3 L628.3,1351.8 L631.0,1350.5 L634.5,1353.7 L638.0,1359.4 L641.0,1353.5 L644.0,1347.5 L647.5,1343.3 L651.0,1340.8 L654.0,1336.9 L657.0,1332.2 L660.5,1336.6 L664.0,1341.8 L666.7,1342.9 L669.3,1347.1 L672.0,1347.6 L675.0,1351.9 L678.0,1357.8 L681.0,1361.5 L684.0,1365.1 L687.0,1367.4 L690.5,1368.1 L694.0,1366.2" stroke="#acacf2" stroke-width="1.1" fill="none" stroke-linejoin="round"/>
<path d="M107.0,1377.4 L110.5,1379.4 L114.0,1381.9 L116.5,1384.3 L119.0,1384.9 L122.0,1384.1 L125.0,1383.7 L128.0,1383.1 L131.0,1382.0 L133.8,1382.1 L136.5,1383.3 L139.2,1384.7 L142.0,1385.1 L145.0,1387.3 L148.0,1388.1 L151.0,1389.2 L154.0,1391.1 L156.7,1390.6 L159.3,1390.8 L162.0,1390.6 L165.0,1390.3 L168.0,1388.5 L171.0,1388.8 L174.0,1387.7 L176.7,1385.4 L179.3,1386.3 L182.0,1384.4 L185.0,1386.0 L188.0,1389.2 L191.0,1390.3 L193.8,1392.2 L196.5,1393.3 L199.2,1395.7 L202.0,1398.7 L205.0,1395.9 L208.0,1393.3 L211.0,1392.2 L214.0,1389.5 L216.7,1386.3 L219.3,1383.5 L222.0,1381.6 L225.0,1382.1 L228.0,1382.0 L231.0,1380.8 L233.7,1383.1 L236.3,1387.3 L239.0,1388.6 L242.0,1389.6 L245.0,1391.6 L248.0,1392.3 L250.7,1392.0 L253.3,1390.6 L256.0,1387.6 L259.0,1385.0 L262.0,1382.8 L265.0,1380.8 L268.0,1380.7 L271.0,1383.5 L274.0,1383.7 L276.7,1384.3 L279.3,1385.1 L282.0,1385.2 L285.0,1388.7 L288.0,1393.9 L291.0,1396.5 L293.7,1398.3 L296.3,1400.6 L299.0,1402.3 L303.0,1404.8 L306.0,1409.3 L309.0,1412.8 L311.5,1416.7 L314.0,1423.2 L318.0,1413.5 L322.0,1404.5 L325.5,1400.5 L329.0,1396.5 L332.0,1395.2 L335.0,1395.0 L338.0,1394.3 L341.0,1391.9 L343.5,1388.2 L346.0,1383.7 L349.0,1382.8 L352.0,1380.8 L355.5,1385.1 L359.0,1389.0 L361.5,1386.8 L364.0,1387.0 L366.5,1387.8 L369.0,1386.6 L373.0,1402.2 L376.0,1391.9 L380.0,1348.9 L384.0,1334.3 L387.5,1328.5 L391.0,1321.3 L395.0,1302.4 L398.0,1290.9 L401.0,1275.8 L403.5,1282.1 L406.0,1287.8 L410.0,1302.9 L414.0,1313.7 L416.5,1321.7 L419.0,1327.3 L422.0,1337.8 L425.0,1346.7 L429.0,1352.6 L433.0,1364.2 L437.0,1365.3 L440.5,1361.4 L444.0,1355.9 L447.0,1351.2 L450.0,1347.8 L454.0,1356.4 L457.0,1359.1 L460.0,1360.7 L463.0,1363.3 L465.7,1364.2 L468.3,1367.1 L471.0,1369.5 L474.0,1371.2 L477.0,1371.3 L480.0,1374.2 L483.0,1377.6 L486.0,1380.0 L489.5,1378.4 L493.0,1378.7 L496.0,1379.2 L499.0,1379.9 L502.5,1378.0 L506.0,1378.0 L509.0,1375.7 L512.0,1374.4 L515.5,1374.8 L519.0,1372.8 L521.7,1373.1 L524.3,1375.1 L527.0,1374.3 L530.0,1373.4 L533.0,1373.9 L536.0,1371.8 L538.7,1371.4 L541.3,1372.6 L544.0,1370.9 L547.0,1371.1 L550.0,1371.9 L553.0,1372.7 L555.7,1371.8 L558.3,1371.2 L561.0,1368.5 L564.5,1371.2 L568.0,1374.8 L571.0,1376.9 L574.0,1379.0 L577.0,1380.7 L580.0,1382.7 L584.0,1380.0 L587.5,1377.5 L591.0,1372.5 L594.0,1377.1 L597.0,1380.3 L600.0,1380.8 L603.0,1382.2 L606.0,1384.5 L608.7,1384.4 L611.3,1387.0 L614.0,1386.2 L617.0,1385.9 L620.0,1387.6 L623.0,1386.2 L625.7,1383.2 L628.3,1382.7 L631.0,1380.8 L634.5,1385.3 L638.0,1388.2 L641.0,1383.7 L644.0,1377.7 L647.5,1374.9 L651.0,1369.7 L654.0,1364.4 L657.0,1361.3 L660.5,1364.9 L664.0,1370.4 L666.7,1373.0 L669.3,1373.2 L672.0,1376.2 L675.0,1380.8 L678.0,1383.8 L681.0,1389.1 L684.0,1393.8 L687.0,1396.2 L690.5,1394.3 L694.0,1394.3" stroke="#acacf2" stroke-width="1.1" fill="none" stroke-linejoin="round"/>
<path d="M107.0,1348.6 L111.0,1351.0 L113.5,1345.4 L116.0,1338.6 L119.0,1339.3 L122.0,1341.6 L125.0,1341.4 L128.0,1342.9 L130.8,1343.6 L133.5,1343.5 L136.2,1342.9 L139.0,1342.9 L142.0,1342.7 L145.0,1340.4 L148.0,1340.0 L151.0,1345.7 L153.5,1339.4 L156.0,1332.9 L159.0,1337.1 L162.0,1339.6 L165.0,1342.9 L168.0,1343.8 L171.0,1344.2 L174.0,1345.7 L176.7,1349.3 L179.3,1351.1 L182.0,1354.3 L185.0,1356.6 L188.0,1357.4 L191.0,1360.0 L193.8,1359.4 L196.5,1358.0 L199.2,1357.9 L202.0,1357.1 L205.0,1361.2 L208.0,1365.7 L211.0,1370.0 L213.7,1367.1 L216.3,1364.5 L219.0,1361.4 L222.0,1363.6 L225.0,1364.9 L228.0,1365.7 L230.7,1366.7 L233.3,1367.4 L236.0,1368.6 L239.0,1375.3 L242.0,1382.9 L245.0,1384.5 L248.0,1384.9 L251.0,1385.7 L253.7,1385.6 L256.3,1384.1 L259.0,1382.9 L262.0,1382.9 L265.0,1385.2 L268.0,1385.7 L270.7,1380.9 L273.3,1376.1 L276.0,1371.4 L279.0,1373.6 L282.0,1374.3 L285.0,1381.8 L288.0,1388.6 L290.7,1391.4 L293.3,1392.7 L296.0,1394.3 L299.5,1395.5 L303.0,1397.1 L306.0,1389.3 L309.0,1382.1 L312.5,1376.2 L316.0,1369.3 L319.0,1373.2 L322.0,1377.9 L326.0,1384.3 L329.5,1377.6 L333.0,1371.4 L336.0,1372.8 L339.0,1373.6 L342.5,1370.6 L346.0,1368.2 L349.0,1371.7 L352.0,1373.6 L355.5,1379.6 L359.0,1384.3 L363.0,1375.7 L366.0,1379.3 L369.0,1382.1 L371.5,1370.2 L374.0,1358.6 L378.0,1324.3 L382.0,1302.9 L385.5,1294.6 L389.0,1285.7 L393.0,1270.7 L397.0,1253.6 L401.0,1266.4 L403.5,1272.1 L406.0,1277.1 L410.0,1272.9 L414.0,1283.6 L417.5,1293.1 L421.0,1302.9 L424.0,1308.7 L427.0,1315.7 L430.0,1320.4 L433.0,1325.7 L437.0,1334.3 L440.5,1337.9 L444.0,1342.9 L447.0,1346.3 L450.0,1351.4 L453.0,1356.9 L456.0,1363.2 L459.5,1363.0 L463.0,1364.3 L466.0,1361.8 L469.0,1360.0 L471.5,1357.7 L474.0,1355.7 L477.0,1351.7 L480.0,1349.3 L484.0,1355.7 L487.5,1355.0 L491.0,1353.6 L495.0,1351.4 L498.0,1352.7 L501.0,1352.5 L503.5,1349.5 L506.0,1348.2 L508.0,1357.9 L510.7,1357.0 L513.3,1357.2 L516.0,1357.9 L519.5,1357.6 L523.0,1358.9 L525.7,1358.5 L528.3,1359.0 L531.0,1357.9 L534.0,1358.5 L537.0,1359.4 L540.0,1360.0 L543.0,1359.0 L546.0,1358.4 L549.0,1357.9 L552.0,1361.5 L555.0,1364.3 L558.0,1366.6 L561.0,1370.7 L564.5,1369.8 L568.0,1369.6 L570.7,1370.2 L573.3,1371.9 L576.0,1373.9 L578.7,1372.2 L581.3,1371.1 L584.0,1368.6 L587.0,1369.2 L590.0,1367.9 L593.0,1368.6 L595.7,1368.1 L598.3,1369.0 L601.0,1369.6 L603.5,1363.3 L606.0,1357.9 L608.7,1358.3 L611.3,1359.3 L614.0,1358.9 L617.0,1360.8 L620.0,1364.7 L623.0,1366.4 L625.7,1367.6 L628.3,1369.0 L631.0,1370.7 L634.0,1370.6 L637.0,1371.6 L640.0,1372.9 L643.0,1374.1 L646.0,1375.0 L649.5,1374.5 L653.0,1374.0 L656.0,1377.5 L659.0,1380.4 L662.5,1376.3 L666.0,1370.7 L668.7,1370.1 L671.3,1370.7 L674.0,1370.7 L677.0,1371.4 L680.0,1374.1 L683.0,1375.0 L686.0,1380.9 L689.0,1385.7 L691.5,1390.0 L694.0,1394.3" stroke="#e81818" stroke-width="2.3" fill="none" stroke-linejoin="round" stroke-linecap="round"/>
<path d="M107.0,1362.9 L110.5,1365.0 L114.0,1368.6 L116.5,1369.7 L119.0,1371.4 L122.0,1370.9 L125.0,1369.0 L128.0,1368.9 L131.0,1367.1 L133.8,1368.2 L136.5,1369.6 L139.2,1370.9 L142.0,1371.4 L145.0,1373.6 L148.0,1373.4 L151.0,1375.3 L154.0,1377.1 L156.7,1377.5 L159.3,1375.7 L162.0,1375.7 L165.0,1374.1 L168.0,1373.6 L171.0,1373.0 L174.0,1372.9 L176.7,1372.1 L179.3,1371.0 L182.0,1370.0 L185.0,1371.7 L188.0,1373.6 L191.0,1375.7 L193.8,1378.0 L196.5,1378.7 L199.2,1380.3 L202.0,1382.9 L205.0,1380.2 L208.0,1378.6 L211.0,1376.7 L214.0,1374.3 L216.7,1372.7 L219.3,1368.8 L222.0,1367.1 L225.0,1367.0 L228.0,1366.6 L231.0,1365.7 L233.7,1367.3 L236.3,1371.0 L239.0,1372.9 L242.0,1375.0 L245.0,1376.4 L248.0,1377.1 L250.7,1375.6 L253.3,1373.5 L256.0,1371.4 L259.0,1368.8 L262.0,1367.8 L265.0,1365.7 L268.0,1365.9 L271.0,1367.0 L274.0,1368.6 L276.7,1368.5 L279.3,1368.0 L282.0,1368.6 L285.0,1372.1 L288.0,1376.6 L291.0,1380.0 L293.7,1381.0 L296.3,1383.9 L299.0,1385.7 L303.0,1388.6 L306.0,1391.8 L309.0,1395.0 L311.5,1400.8 L314.0,1405.7 L318.0,1395.0 L322.0,1386.4 L325.5,1382.4 L329.0,1377.9 L332.0,1376.2 L335.0,1375.0 L338.0,1372.5 L341.0,1371.4 L343.5,1366.8 L346.0,1362.9 L349.0,1360.1 L352.0,1358.6 L355.5,1362.8 L359.0,1367.1 L361.5,1364.6 L364.0,1363.9 L366.5,1363.2 L369.0,1362.9 L373.0,1377.9 L376.0,1367.1 L380.0,1324.3 L384.0,1302.9 L387.5,1289.7 L391.0,1277.1 L395.0,1251.4 L398.0,1234.3 L401.0,1213.9 L403.5,1224.1 L406.0,1234.3 L410.0,1255.7 L414.0,1272.9 L416.5,1284.3 L419.0,1294.3 L422.0,1305.0 L425.0,1315.7 L429.0,1324.3 L433.0,1336.4 L437.0,1338.6 L440.5,1334.8 L444.0,1332.1 L447.0,1328.7 L450.0,1326.8 L454.0,1336.4 L457.0,1338.9 L460.0,1342.2 L463.0,1345.0 L465.7,1346.4 L468.3,1349.4 L471.0,1351.4 L474.0,1352.7 L477.0,1355.2 L480.0,1356.8 L483.0,1360.4 L486.0,1363.2 L489.5,1362.8 L493.0,1362.0 L496.0,1361.2 L499.0,1362.0 L502.5,1361.4 L506.0,1361.1 L509.0,1359.4 L512.0,1356.8 L515.5,1355.9 L519.0,1356.0 L521.7,1357.2 L524.3,1355.7 L527.0,1356.8 L530.0,1355.8 L533.0,1355.8 L536.0,1354.6 L538.7,1355.1 L541.3,1353.3 L544.0,1353.6 L547.0,1355.2 L550.0,1355.2 L553.0,1355.7 L555.7,1354.8 L558.3,1352.8 L561.0,1352.5 L564.5,1355.0 L568.0,1357.9 L571.0,1360.0 L574.0,1362.2 L577.0,1365.8 L580.0,1367.5 L584.0,1364.3 L587.5,1361.0 L591.0,1356.8 L594.0,1360.0 L597.0,1364.3 L600.0,1365.6 L603.0,1366.5 L606.0,1368.6 L608.7,1369.7 L611.3,1370.9 L614.0,1370.7 L617.0,1370.9 L620.0,1370.9 L623.0,1370.7 L625.7,1368.7 L628.3,1367.6 L631.0,1366.4 L634.5,1370.2 L638.0,1373.9 L641.0,1367.1 L644.0,1362.1 L647.5,1359.7 L651.0,1355.7 L654.0,1350.5 L657.0,1347.1 L660.5,1351.6 L664.0,1355.7 L666.7,1357.2 L669.3,1360.1 L672.0,1362.1 L675.0,1366.0 L678.0,1370.6 L681.0,1375.0 L684.0,1377.6 L687.0,1381.4 L690.5,1380.7 L694.0,1380.4" stroke="#1414e0" stroke-width="2.3" fill="none" stroke-linejoin="round" stroke-linecap="round"/>
<path d="M107.0,1338.0 L111.0,1342.9 L113.7,1338.9 L116.3,1333.8 L119.0,1328.6 L122.3,1324.9 L125.7,1323.1 L129.0,1320.0 L132.3,1324.9 L135.7,1331.6 L139.0,1337.1 L142.0,1333.5 L145.0,1330.6 L148.0,1328.0 L150.7,1324.9 L153.3,1322.0 L156.0,1320.0 L159.0,1318.5 L162.0,1318.0 L165.5,1311.4 L169.0,1305.7 L172.5,1314.1 L176.0,1321.4 L179.0,1319.7 L182.0,1319.0 L185.0,1317.3 L188.0,1315.7 L190.7,1318.6 L193.3,1321.6 L196.0,1325.7 L199.0,1330.1 L202.0,1332.5 L205.0,1337.1 L208.0,1338.6 L211.0,1338.2 L214.0,1340.0 L216.7,1340.7 L219.3,1341.4 L222.0,1341.4 L225.0,1346.6 L228.0,1352.1 L231.0,1357.1 L233.5,1362.5 L236.0,1368.6 L239.0,1363.1 L242.0,1359.7 L245.0,1354.3 L248.0,1347.7 L251.0,1341.4 L253.5,1346.8 L256.0,1352.9 L259.0,1353.0 L262.0,1354.2 L265.0,1355.0 L268.0,1361.1 L271.0,1367.1 L273.7,1367.6 L276.3,1368.0 L279.0,1368.6 L282.0,1360.6 L285.0,1353.5 L288.0,1345.7 L291.0,1336.5 L294.0,1325.7 L296.5,1320.2 L299.0,1314.3 L303.0,1311.4 L307.0,1313.0 L311.0,1328.6 L313.5,1326.5 L316.0,1324.3 L320.0,1337.1 L323.0,1357.2 L326.0,1375.7 L328.5,1384.2 L331.0,1392.9 L335.0,1377.9 L339.0,1356.4 L342.5,1352.7 L346.0,1347.9 L350.0,1351.0 L354.0,1341.4 L357.5,1349.6 L361.0,1356.4 L365.0,1324.3 L369.0,1290.0 L371.0,1272.9 L373.5,1274.4 L376.0,1275.0 L379.0,1272.0 L382.0,1270.7 L385.6,1271.0 L389.0,1265.0 L391.6,1264.2 L394.1,1263.4 L398.0,1243.9 L401.0,1249.7 L403.6,1268.6 L406.1,1290.0 L408.7,1318.3 L411.4,1324.7 L414.0,1332.9 L416.5,1337.0 L419.0,1339.3 L422.0,1341.9 L425.0,1345.7 L429.0,1360.7 L431.5,1358.1 L434.0,1356.0 L436.5,1348.1 L439.0,1339.6 L442.5,1342.6 L446.0,1347.1 L449.0,1353.2 L452.0,1357.9 L455.5,1362.7 L459.0,1367.5 L461.7,1367.0 L464.3,1368.8 L467.0,1368.6 L470.0,1369.6 L473.0,1370.8 L476.0,1370.7 L478.7,1367.8 L481.3,1363.8 L484.0,1360.0 L487.5,1359.0 L491.0,1356.8 L494.0,1361.3 L497.0,1364.3 L500.0,1365.5 L503.0,1365.7 L506.0,1366.4 L508.7,1366.0 L511.3,1365.7 L514.0,1364.3 L517.0,1362.0 L520.0,1359.4 L523.0,1357.9 L525.7,1356.3 L528.3,1356.8 L531.0,1355.0 L534.0,1353.6 L537.0,1353.2 L540.0,1351.4 L543.0,1350.1 L546.0,1348.6 L549.0,1347.1 L551.5,1343.9 L554.0,1339.6 L557.5,1343.5 L561.0,1347.1 L563.7,1344.7 L566.3,1342.9 L569.0,1339.6 L572.5,1345.5 L576.0,1351.4 L578.7,1350.8 L581.3,1350.0 L584.0,1350.3 L587.5,1353.7 L591.0,1356.8 L595.0,1352.5 L598.0,1354.8 L601.0,1357.9 L604.5,1360.8 L608.0,1364.3 L611.0,1361.7 L614.0,1358.9 L617.0,1357.1 L620.0,1354.8 L623.0,1353.6 L625.7,1354.5 L628.3,1354.6 L631.0,1355.7 L634.5,1359.2 L638.0,1364.3 L642.0,1372.9 L645.0,1372.4 L648.0,1371.4 L651.0,1370.7 L654.3,1367.9 L657.7,1366.2 L661.0,1363.2 L664.0,1365.0 L667.0,1368.3 L670.0,1370.7 L673.0,1373.7 L676.0,1375.3 L679.0,1377.1 L681.7,1375.8 L684.3,1372.4 L687.0,1370.7 L690.5,1371.6 L694.0,1373.9" stroke="#14c814" stroke-width="2.3" fill="none" stroke-linejoin="round" stroke-linecap="round"/>
<path d="M173.0,1103.4v5 M173.0,1436.9v-5 M238.2,1103.4v5 M238.2,1436.9v-5 M303.3,1103.4v5 M303.3,1436.9v-5 M368.5,1103.4v5 M368.5,1436.9v-5 M433.7,1103.4v5 M433.7,1436.9v-5 M498.9,1103.4v5 M498.9,1436.9v-5 M564.0,1103.4v5 M564.0,1436.9v-5 M629.2,1103.4v5 M629.2,1436.9v-5 M107.8,1170.1h5 M694.4,1170.1h-5 M107.8,1236.8h5 M694.4,1236.8h-5 M107.8,1303.5h5 M694.4,1303.5h-5 M107.8,1369.8h5 M694.4,1369.8h-5" stroke="#555" stroke-width="1.3" fill="none"/>
<rect x="107.8" y="1103.4" width="586.6" height="333.5" fill="none" stroke="#4a4a4a" stroke-width="1.6"/>
<text transform="translate(94,1114.7) scale(1,1.100)" font-size="28.5" text-anchor="end">0.20</text>
<text transform="translate(94,1180.1) scale(1,1.100)" font-size="28.5" text-anchor="end">0.15</text>
<text transform="translate(94,1246.8) scale(1,1.100)" font-size="28.5" text-anchor="end">0.10</text>
<text transform="translate(94,1313.5) scale(1,1.100)" font-size="28.5" text-anchor="end">0.05</text>
<text transform="translate(94,1380.2) scale(1,1.100)" font-size="28.5" text-anchor="end">0.00</text>
<text transform="translate(94,1446.9) scale(1,1.100)" font-size="28.5" text-anchor="end">-0.05</text>
<text transform="translate(20.4,1270.5) rotate(-90) scale(1.045,1)" font-size="28.5" text-anchor="middle">Δ VP (s)</text>
<text transform="translate(107.8,1476.5) scale(1,1.100)" font-size="28.5" text-anchor="middle">-10</text>
<text transform="translate(173.0,1476.5) scale(1,1.100)" font-size="28.5" text-anchor="middle">-8</text>
<text transform="translate(238.2,1476.5) scale(1,1.100)" font-size="28.5" text-anchor="middle">-6</text>
<text transform="translate(303.3,1476.5) scale(1,1.100)" font-size="28.5" text-anchor="middle">-4</text>
<text transform="translate(368.5,1476.5) scale(1,1.100)" font-size="28.5" text-anchor="middle">-2</text>
<text transform="translate(433.7,1476.5) scale(1,1.100)" font-size="28.5" text-anchor="middle">0</text>
<text transform="translate(498.9,1476.5) scale(1,1.100)" font-size="28.5" text-anchor="middle">2</text>
<text transform="translate(564.0,1476.5) scale(1,1.100)" font-size="28.5" text-anchor="middle">4</text>
<text transform="translate(629.2,1476.5) scale(1,1.100)" font-size="28.5" text-anchor="middle">6</text>
<text transform="translate(692.9,1476.5) scale(1,1.100)" font-size="28.5" text-anchor="middle">8</text>
<text transform="translate(399.7,1521.7) scale(1,1.0)" font-size="30" text-anchor="middle">Time (s)</text>
</svg></body></html>
